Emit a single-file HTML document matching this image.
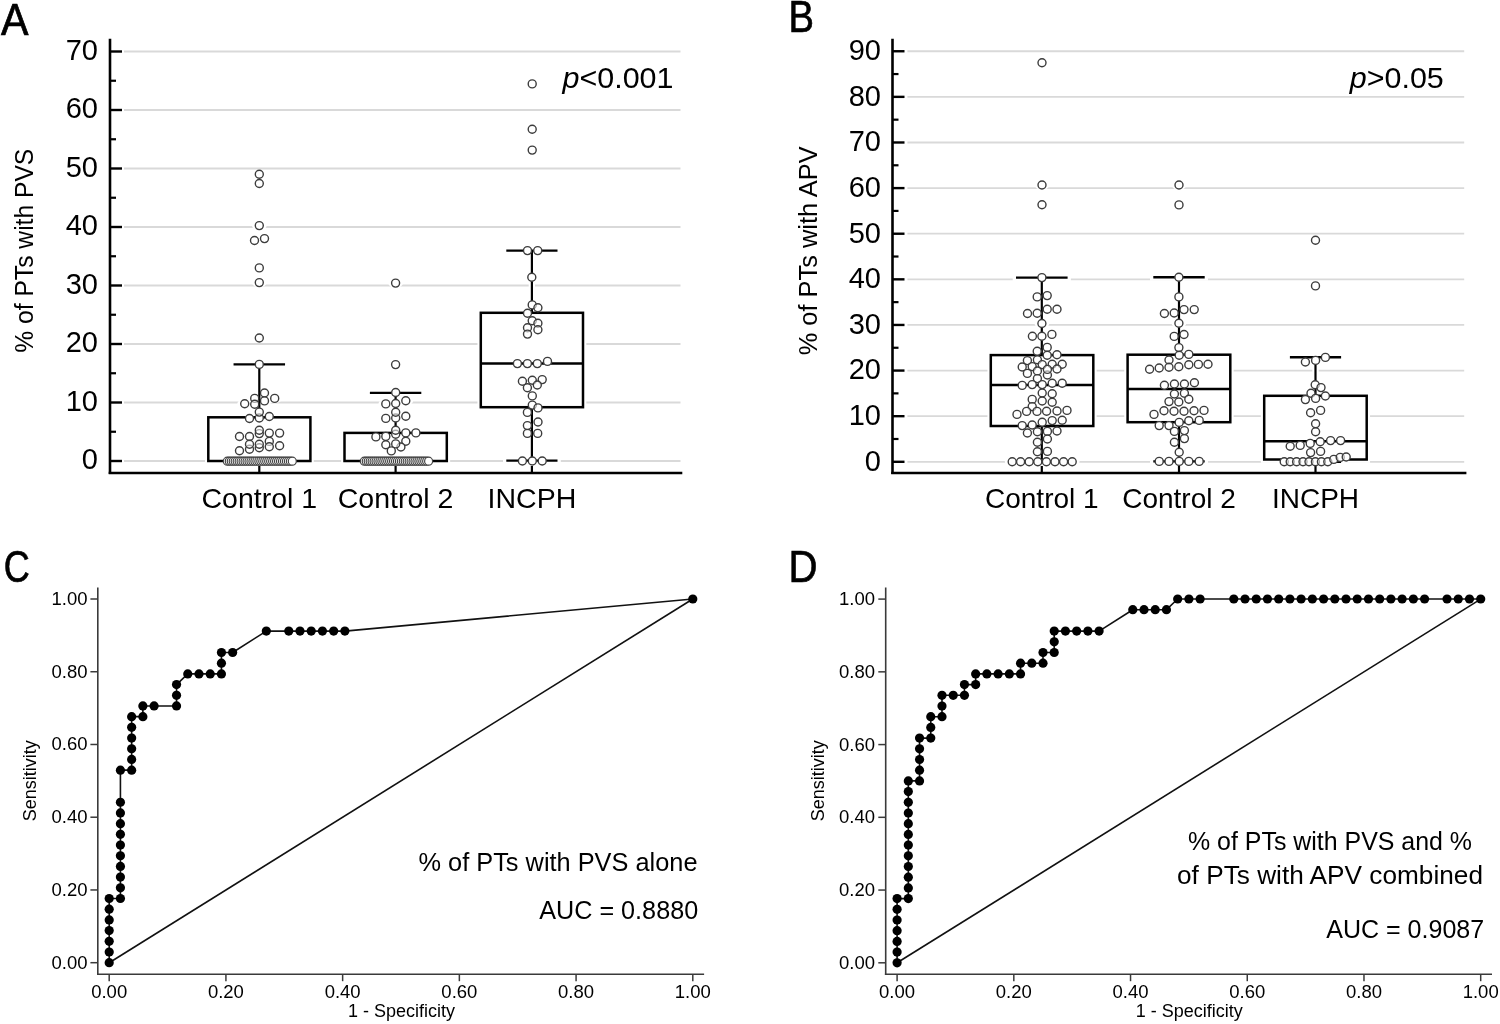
<!DOCTYPE html>
<html><head><meta charset="utf-8"><title>Figure</title>
<style>
html,body{margin:0;padding:0;background:#fff;}
svg{display:block;will-change:transform;}
text{font-family:"Liberation Sans",sans-serif;fill:#000;}
circle.of{fill:#fff;stroke:none;}
circle.o{fill:#fff;fill-opacity:0.55;stroke:#3c3c3c;stroke-width:1.4;}
circle.z{fill:#fff;stroke:#444;stroke-width:1.2;}
</style></head>
<body>
<svg width="1500" height="1024" viewBox="0 0 1500 1024">
<rect width="1500" height="1024" fill="#fff"/>
<text x="1.0" y="34.7" font-size="45" stroke="#000" stroke-width="0.7" textLength="27.5" lengthAdjust="spacingAndGlyphs">A</text>
<text x="788.5" y="32.3" font-size="45" stroke="#000" stroke-width="0.7" textLength="25.5" lengthAdjust="spacingAndGlyphs">B</text>
<text x="3.8" y="582.2" font-size="45" stroke="#000" stroke-width="0.7" textLength="26" lengthAdjust="spacingAndGlyphs">C</text>
<text x="788.5" y="582.4" font-size="45" stroke="#000" stroke-width="0.7" textLength="29" lengthAdjust="spacingAndGlyphs">D</text>
<g class="A">
<line x1="124.00" y1="461.00" x2="680.50" y2="461.00" stroke="#d9d9d9" stroke-width="1.8" stroke-linecap="butt"/>
<line x1="124.00" y1="402.50" x2="680.50" y2="402.50" stroke="#d9d9d9" stroke-width="1.8" stroke-linecap="butt"/>
<line x1="124.00" y1="344.00" x2="680.50" y2="344.00" stroke="#d9d9d9" stroke-width="1.8" stroke-linecap="butt"/>
<line x1="124.00" y1="285.50" x2="680.50" y2="285.50" stroke="#d9d9d9" stroke-width="1.8" stroke-linecap="butt"/>
<line x1="124.00" y1="227.00" x2="680.50" y2="227.00" stroke="#d9d9d9" stroke-width="1.8" stroke-linecap="butt"/>
<line x1="124.00" y1="168.50" x2="680.50" y2="168.50" stroke="#d9d9d9" stroke-width="1.8" stroke-linecap="butt"/>
<line x1="124.00" y1="110.00" x2="680.50" y2="110.00" stroke="#d9d9d9" stroke-width="1.8" stroke-linecap="butt"/>
<line x1="124.00" y1="51.50" x2="680.50" y2="51.50" stroke="#d9d9d9" stroke-width="1.8" stroke-linecap="butt"/>
<line x1="259.30" y1="364.40" x2="259.30" y2="417.30" stroke="#fff" stroke-width="6.4" stroke-linecap="butt"/>
<line x1="259.30" y1="461.00" x2="259.30" y2="461.00" stroke="#fff" stroke-width="6.4" stroke-linecap="butt"/>
<line x1="233.55" y1="364.40" x2="285.05" y2="364.40" stroke="#fff" stroke-width="6.6" stroke-linecap="square"/>
<line x1="233.55" y1="461.00" x2="285.05" y2="461.00" stroke="#fff" stroke-width="6.6" stroke-linecap="square"/>
<rect x="208.30" y="417.30" width="102.10" height="43.70" fill="#fff" stroke="#fff" stroke-width="6.7"/>
<line x1="395.60" y1="392.90" x2="395.60" y2="432.90" stroke="#fff" stroke-width="6.4" stroke-linecap="butt"/>
<line x1="395.60" y1="461.00" x2="395.60" y2="461.00" stroke="#fff" stroke-width="6.4" stroke-linecap="butt"/>
<line x1="369.90" y1="392.90" x2="421.30" y2="392.90" stroke="#fff" stroke-width="6.6" stroke-linecap="square"/>
<line x1="369.90" y1="461.00" x2="421.30" y2="461.00" stroke="#fff" stroke-width="6.6" stroke-linecap="square"/>
<rect x="344.50" y="432.90" width="102.30" height="28.10" fill="#fff" stroke="#fff" stroke-width="6.7"/>
<line x1="531.90" y1="250.60" x2="531.90" y2="312.80" stroke="#fff" stroke-width="6.4" stroke-linecap="butt"/>
<line x1="531.90" y1="407.20" x2="531.90" y2="460.60" stroke="#fff" stroke-width="6.4" stroke-linecap="butt"/>
<line x1="506.30" y1="250.60" x2="557.50" y2="250.60" stroke="#fff" stroke-width="6.6" stroke-linecap="square"/>
<line x1="506.30" y1="460.60" x2="557.50" y2="460.60" stroke="#fff" stroke-width="6.6" stroke-linecap="square"/>
<rect x="480.80" y="312.80" width="102.20" height="94.40" fill="#fff" stroke="#fff" stroke-width="6.7"/>
<line x1="480.80" y1="363.40" x2="583.00" y2="363.40" stroke="#fff" stroke-width="6.7" stroke-linecap="butt"/>
<ellipse cx="259.3" cy="174.3" rx="7.4" ry="4.8" fill="#fff"/>
<ellipse cx="259.3" cy="183.5" rx="7.4" ry="4.8" fill="#fff"/>
<ellipse cx="259.3" cy="225.6" rx="7.4" ry="4.8" fill="#fff"/>
<ellipse cx="254.5" cy="240.5" rx="7.4" ry="4.8" fill="#fff"/>
<ellipse cx="264.5" cy="238.6" rx="7.4" ry="4.8" fill="#fff"/>
<ellipse cx="259.3" cy="267.9" rx="7.4" ry="4.8" fill="#fff"/>
<ellipse cx="259.3" cy="282.6" rx="7.4" ry="4.8" fill="#fff"/>
<ellipse cx="259.3" cy="338.0" rx="7.4" ry="4.8" fill="#fff"/>
<ellipse cx="259.3" cy="364.4" rx="7.4" ry="4.8" fill="#fff"/>
<ellipse cx="264.5" cy="393.0" rx="7.4" ry="4.8" fill="#fff"/>
<ellipse cx="254.7" cy="398.4" rx="7.4" ry="4.8" fill="#fff"/>
<ellipse cx="274.7" cy="398.4" rx="7.4" ry="4.8" fill="#fff"/>
<ellipse cx="264.5" cy="400.9" rx="7.4" ry="4.8" fill="#fff"/>
<ellipse cx="244.7" cy="403.8" rx="7.4" ry="4.8" fill="#fff"/>
<ellipse cx="254.7" cy="404.3" rx="7.4" ry="4.8" fill="#fff"/>
<ellipse cx="259.3" cy="418.0" rx="7.4" ry="4.8" fill="#fff"/>
<ellipse cx="259.3" cy="412.1" rx="7.4" ry="4.8" fill="#fff"/>
<ellipse cx="269.3" cy="416.5" rx="7.4" ry="4.8" fill="#fff"/>
<ellipse cx="249.5" cy="418.5" rx="7.4" ry="4.8" fill="#fff"/>
<ellipse cx="259.3" cy="433.6" rx="7.4" ry="4.8" fill="#fff"/>
<ellipse cx="259.3" cy="430.2" rx="7.4" ry="4.8" fill="#fff"/>
<ellipse cx="269.3" cy="433.1" rx="7.4" ry="4.8" fill="#fff"/>
<ellipse cx="279.6" cy="433.1" rx="7.4" ry="4.8" fill="#fff"/>
<ellipse cx="239.5" cy="436.5" rx="7.4" ry="4.8" fill="#fff"/>
<ellipse cx="249.5" cy="436.5" rx="7.4" ry="4.8" fill="#fff"/>
<ellipse cx="269.3" cy="441.4" rx="7.4" ry="4.8" fill="#fff"/>
<ellipse cx="259.3" cy="447.8" rx="7.4" ry="4.8" fill="#fff"/>
<ellipse cx="249.5" cy="449.2" rx="7.4" ry="4.8" fill="#fff"/>
<ellipse cx="269.3" cy="446.8" rx="7.4" ry="4.8" fill="#fff"/>
<ellipse cx="249.5" cy="444.3" rx="7.4" ry="4.8" fill="#fff"/>
<ellipse cx="259.3" cy="444.3" rx="7.4" ry="4.8" fill="#fff"/>
<ellipse cx="279.6" cy="445.8" rx="7.4" ry="4.8" fill="#fff"/>
<ellipse cx="239.5" cy="450.7" rx="7.4" ry="4.8" fill="#fff"/>
<ellipse cx="395.6" cy="283.1" rx="7.4" ry="4.8" fill="#fff"/>
<ellipse cx="395.6" cy="364.6" rx="7.4" ry="4.8" fill="#fff"/>
<ellipse cx="395.7" cy="392.5" rx="7.4" ry="4.8" fill="#fff"/>
<ellipse cx="385.8" cy="403.9" rx="7.4" ry="4.8" fill="#fff"/>
<ellipse cx="395.7" cy="403.5" rx="7.4" ry="4.8" fill="#fff"/>
<ellipse cx="405.8" cy="400.8" rx="7.4" ry="4.8" fill="#fff"/>
<ellipse cx="395.7" cy="418.0" rx="7.4" ry="4.8" fill="#fff"/>
<ellipse cx="395.7" cy="412.3" rx="7.4" ry="4.8" fill="#fff"/>
<ellipse cx="385.8" cy="418.4" rx="7.4" ry="4.8" fill="#fff"/>
<ellipse cx="405.8" cy="416.2" rx="7.4" ry="4.8" fill="#fff"/>
<ellipse cx="395.7" cy="434.2" rx="7.4" ry="4.8" fill="#fff"/>
<ellipse cx="395.7" cy="430.3" rx="7.4" ry="4.8" fill="#fff"/>
<ellipse cx="405.8" cy="432.9" rx="7.4" ry="4.8" fill="#fff"/>
<ellipse cx="415.9" cy="432.9" rx="7.4" ry="4.8" fill="#fff"/>
<ellipse cx="375.9" cy="436.9" rx="7.4" ry="4.8" fill="#fff"/>
<ellipse cx="385.8" cy="436.4" rx="7.4" ry="4.8" fill="#fff"/>
<ellipse cx="405.8" cy="441.3" rx="7.4" ry="4.8" fill="#fff"/>
<ellipse cx="400.9" cy="447.0" rx="7.4" ry="4.8" fill="#fff"/>
<ellipse cx="385.8" cy="444.8" rx="7.4" ry="4.8" fill="#fff"/>
<ellipse cx="395.7" cy="443.9" rx="7.4" ry="4.8" fill="#fff"/>
<ellipse cx="391.3" cy="450.9" rx="7.4" ry="4.8" fill="#fff"/>
<ellipse cx="532.2" cy="83.9" rx="7.4" ry="4.8" fill="#fff"/>
<ellipse cx="532.2" cy="129.2" rx="7.4" ry="4.8" fill="#fff"/>
<ellipse cx="532.2" cy="150.1" rx="7.4" ry="4.8" fill="#fff"/>
<ellipse cx="527.5" cy="250.6" rx="7.4" ry="4.8" fill="#fff"/>
<ellipse cx="537.7" cy="250.6" rx="7.4" ry="4.8" fill="#fff"/>
<ellipse cx="531.8" cy="277.2" rx="7.4" ry="4.8" fill="#fff"/>
<ellipse cx="532.2" cy="304.9" rx="7.4" ry="4.8" fill="#fff"/>
<ellipse cx="537.9" cy="307.7" rx="7.4" ry="4.8" fill="#fff"/>
<ellipse cx="527.5" cy="313.2" rx="7.4" ry="4.8" fill="#fff"/>
<ellipse cx="532.2" cy="320.8" rx="7.4" ry="4.8" fill="#fff"/>
<ellipse cx="537.9" cy="323.3" rx="7.4" ry="4.8" fill="#fff"/>
<ellipse cx="527.5" cy="327.8" rx="7.4" ry="4.8" fill="#fff"/>
<ellipse cx="537.9" cy="329.7" rx="7.4" ry="4.8" fill="#fff"/>
<ellipse cx="527.5" cy="334.1" rx="7.4" ry="4.8" fill="#fff"/>
<ellipse cx="517.4" cy="363.6" rx="7.4" ry="4.8" fill="#fff"/>
<ellipse cx="527.4" cy="363.6" rx="7.4" ry="4.8" fill="#fff"/>
<ellipse cx="537.3" cy="363.6" rx="7.4" ry="4.8" fill="#fff"/>
<ellipse cx="547.5" cy="361.4" rx="7.4" ry="4.8" fill="#fff"/>
<ellipse cx="522.4" cy="381.3" rx="7.4" ry="4.8" fill="#fff"/>
<ellipse cx="532.3" cy="380.3" rx="7.4" ry="4.8" fill="#fff"/>
<ellipse cx="542.2" cy="379.6" rx="7.4" ry="4.8" fill="#fff"/>
<ellipse cx="527.4" cy="387.8" rx="7.4" ry="4.8" fill="#fff"/>
<ellipse cx="537.3" cy="385.0" rx="7.4" ry="4.8" fill="#fff"/>
<ellipse cx="532.3" cy="395.9" rx="7.4" ry="4.8" fill="#fff"/>
<ellipse cx="532.3" cy="405.1" rx="7.4" ry="4.8" fill="#fff"/>
<ellipse cx="538.0" cy="407.9" rx="7.4" ry="4.8" fill="#fff"/>
<ellipse cx="527.4" cy="412.4" rx="7.4" ry="4.8" fill="#fff"/>
<ellipse cx="538.0" cy="422.0" rx="7.4" ry="4.8" fill="#fff"/>
<ellipse cx="527.4" cy="425.6" rx="7.4" ry="4.8" fill="#fff"/>
<ellipse cx="527.4" cy="433.4" rx="7.4" ry="4.8" fill="#fff"/>
<ellipse cx="537.7" cy="433.4" rx="7.4" ry="4.8" fill="#fff"/>
<ellipse cx="522.4" cy="461.0" rx="7.4" ry="4.8" fill="#fff"/>
<ellipse cx="532.3" cy="461.0" rx="7.4" ry="4.8" fill="#fff"/>
<ellipse cx="542.2" cy="461.0" rx="7.4" ry="4.8" fill="#fff"/>
<rect x="219.9" y="456.4" width="79.8" height="9.6" rx="4.8" fill="#fff"/>
<rect x="356.9" y="456.4" width="79.1" height="9.6" rx="4.8" fill="#fff"/>
<line x1="110.00" y1="38.70" x2="110.00" y2="474.00" stroke="#000" stroke-width="2.6" stroke-linecap="butt"/>
<line x1="108.70" y1="473.00" x2="682.30" y2="473.00" stroke="#000" stroke-width="2.6" stroke-linecap="butt"/>
<line x1="110.00" y1="461.00" x2="122.00" y2="461.00" stroke="#000" stroke-width="2.4" stroke-linecap="butt"/>
<text x="98.00" y="469.30" font-size="29" text-anchor="end" >0</text>
<line x1="110.00" y1="402.50" x2="122.00" y2="402.50" stroke="#000" stroke-width="2.4" stroke-linecap="butt"/>
<text x="98.00" y="410.80" font-size="29" text-anchor="end" >10</text>
<line x1="110.00" y1="344.00" x2="122.00" y2="344.00" stroke="#000" stroke-width="2.4" stroke-linecap="butt"/>
<text x="98.00" y="352.30" font-size="29" text-anchor="end" >20</text>
<line x1="110.00" y1="285.50" x2="122.00" y2="285.50" stroke="#000" stroke-width="2.4" stroke-linecap="butt"/>
<text x="98.00" y="293.80" font-size="29" text-anchor="end" >30</text>
<line x1="110.00" y1="227.00" x2="122.00" y2="227.00" stroke="#000" stroke-width="2.4" stroke-linecap="butt"/>
<text x="98.00" y="235.30" font-size="29" text-anchor="end" >40</text>
<line x1="110.00" y1="168.50" x2="122.00" y2="168.50" stroke="#000" stroke-width="2.4" stroke-linecap="butt"/>
<text x="98.00" y="176.80" font-size="29" text-anchor="end" >50</text>
<line x1="110.00" y1="110.00" x2="122.00" y2="110.00" stroke="#000" stroke-width="2.4" stroke-linecap="butt"/>
<text x="98.00" y="118.30" font-size="29" text-anchor="end" >60</text>
<line x1="110.00" y1="51.50" x2="122.00" y2="51.50" stroke="#000" stroke-width="2.4" stroke-linecap="butt"/>
<text x="98.00" y="59.80" font-size="29" text-anchor="end" >70</text>
<line x1="110.00" y1="431.75" x2="116.00" y2="431.75" stroke="#000" stroke-width="2.2" stroke-linecap="butt"/>
<line x1="110.00" y1="373.25" x2="116.00" y2="373.25" stroke="#000" stroke-width="2.2" stroke-linecap="butt"/>
<line x1="110.00" y1="314.75" x2="116.00" y2="314.75" stroke="#000" stroke-width="2.2" stroke-linecap="butt"/>
<line x1="110.00" y1="256.25" x2="116.00" y2="256.25" stroke="#000" stroke-width="2.2" stroke-linecap="butt"/>
<line x1="110.00" y1="197.75" x2="116.00" y2="197.75" stroke="#000" stroke-width="2.2" stroke-linecap="butt"/>
<line x1="110.00" y1="139.25" x2="116.00" y2="139.25" stroke="#000" stroke-width="2.2" stroke-linecap="butt"/>
<line x1="110.00" y1="80.75" x2="116.00" y2="80.75" stroke="#000" stroke-width="2.2" stroke-linecap="butt"/>
<line x1="259.30" y1="466.00" x2="259.30" y2="473.00" stroke="#000" stroke-width="2.2" stroke-linecap="butt"/>
<line x1="395.60" y1="466.00" x2="395.60" y2="473.00" stroke="#000" stroke-width="2.2" stroke-linecap="butt"/>
<line x1="531.90" y1="466.00" x2="531.90" y2="473.00" stroke="#000" stroke-width="2.2" stroke-linecap="butt"/>
<text x="259.30" y="508.30" font-size="28.5" text-anchor="middle" >Control 1</text>
<text x="395.60" y="508.30" font-size="28.5" text-anchor="middle" >Control 2</text>
<text x="531.90" y="508.30" font-size="28.5" text-anchor="middle" >INCPH</text>
<text transform="translate(33.1,250.7) rotate(-90)" x="0" y="0" font-size="25" text-anchor="middle" textLength="204" lengthAdjust="spacingAndGlyphs">% of PTs with PVS</text>
<line x1="259.30" y1="364.40" x2="259.30" y2="417.30" stroke="#000" stroke-width="2.2" stroke-linecap="butt"/>
<line x1="259.30" y1="461.00" x2="259.30" y2="461.00" stroke="#000" stroke-width="2.2" stroke-linecap="butt"/>
<line x1="233.55" y1="364.40" x2="285.05" y2="364.40" stroke="#000" stroke-width="2.4" stroke-linecap="butt"/>
<line x1="233.55" y1="461.00" x2="285.05" y2="461.00" stroke="#000" stroke-width="2.4" stroke-linecap="butt"/>
<rect x="208.30" y="417.30" width="102.10" height="43.70" fill="none" stroke="#000" stroke-width="2.5"/>
<line x1="395.60" y1="392.90" x2="395.60" y2="432.90" stroke="#000" stroke-width="2.2" stroke-linecap="butt"/>
<line x1="395.60" y1="461.00" x2="395.60" y2="461.00" stroke="#000" stroke-width="2.2" stroke-linecap="butt"/>
<line x1="369.90" y1="392.90" x2="421.30" y2="392.90" stroke="#000" stroke-width="2.4" stroke-linecap="butt"/>
<line x1="369.90" y1="461.00" x2="421.30" y2="461.00" stroke="#000" stroke-width="2.4" stroke-linecap="butt"/>
<rect x="344.50" y="432.90" width="102.30" height="28.10" fill="none" stroke="#000" stroke-width="2.5"/>
<line x1="531.90" y1="250.60" x2="531.90" y2="312.80" stroke="#000" stroke-width="2.2" stroke-linecap="butt"/>
<line x1="531.90" y1="407.20" x2="531.90" y2="460.60" stroke="#000" stroke-width="2.2" stroke-linecap="butt"/>
<line x1="506.30" y1="250.60" x2="557.50" y2="250.60" stroke="#000" stroke-width="2.4" stroke-linecap="butt"/>
<line x1="506.30" y1="460.60" x2="557.50" y2="460.60" stroke="#000" stroke-width="2.4" stroke-linecap="butt"/>
<rect x="480.80" y="312.80" width="102.20" height="94.40" fill="none" stroke="#000" stroke-width="2.5"/>
<line x1="480.80" y1="363.40" x2="583.00" y2="363.40" stroke="#000" stroke-width="2.5" stroke-linecap="butt"/>
<circle cx="227.30" cy="461.2" r="4.0" class="z"/>
<circle cx="229.27" cy="461.2" r="4.0" class="z"/>
<circle cx="231.24" cy="461.2" r="4.0" class="z"/>
<circle cx="233.21" cy="461.2" r="4.0" class="z"/>
<circle cx="235.18" cy="461.2" r="4.0" class="z"/>
<circle cx="237.15" cy="461.2" r="4.0" class="z"/>
<circle cx="239.12" cy="461.2" r="4.0" class="z"/>
<circle cx="241.09" cy="461.2" r="4.0" class="z"/>
<circle cx="243.06" cy="461.2" r="4.0" class="z"/>
<circle cx="245.03" cy="461.2" r="4.0" class="z"/>
<circle cx="247.00" cy="461.2" r="4.0" class="z"/>
<circle cx="248.97" cy="461.2" r="4.0" class="z"/>
<circle cx="250.94" cy="461.2" r="4.0" class="z"/>
<circle cx="252.91" cy="461.2" r="4.0" class="z"/>
<circle cx="254.88" cy="461.2" r="4.0" class="z"/>
<circle cx="256.85" cy="461.2" r="4.0" class="z"/>
<circle cx="258.82" cy="461.2" r="4.0" class="z"/>
<circle cx="260.78" cy="461.2" r="4.0" class="z"/>
<circle cx="262.75" cy="461.2" r="4.0" class="z"/>
<circle cx="264.72" cy="461.2" r="4.0" class="z"/>
<circle cx="266.69" cy="461.2" r="4.0" class="z"/>
<circle cx="268.66" cy="461.2" r="4.0" class="z"/>
<circle cx="270.63" cy="461.2" r="4.0" class="z"/>
<circle cx="272.60" cy="461.2" r="4.0" class="z"/>
<circle cx="274.57" cy="461.2" r="4.0" class="z"/>
<circle cx="276.54" cy="461.2" r="4.0" class="z"/>
<circle cx="278.51" cy="461.2" r="4.0" class="z"/>
<circle cx="280.48" cy="461.2" r="4.0" class="z"/>
<circle cx="282.45" cy="461.2" r="4.0" class="z"/>
<circle cx="284.42" cy="461.2" r="4.0" class="z"/>
<circle cx="286.39" cy="461.2" r="4.0" class="z"/>
<circle cx="288.36" cy="461.2" r="4.0" class="z"/>
<circle cx="290.33" cy="461.2" r="4.0" class="z"/>
<circle cx="292.30" cy="461.2" r="4.0" class="z"/>
<circle cx="364.30" cy="461.2" r="4.0" class="z"/>
<circle cx="366.25" cy="461.2" r="4.0" class="z"/>
<circle cx="368.20" cy="461.2" r="4.0" class="z"/>
<circle cx="370.15" cy="461.2" r="4.0" class="z"/>
<circle cx="372.09" cy="461.2" r="4.0" class="z"/>
<circle cx="374.04" cy="461.2" r="4.0" class="z"/>
<circle cx="375.99" cy="461.2" r="4.0" class="z"/>
<circle cx="377.94" cy="461.2" r="4.0" class="z"/>
<circle cx="379.89" cy="461.2" r="4.0" class="z"/>
<circle cx="381.84" cy="461.2" r="4.0" class="z"/>
<circle cx="383.78" cy="461.2" r="4.0" class="z"/>
<circle cx="385.73" cy="461.2" r="4.0" class="z"/>
<circle cx="387.68" cy="461.2" r="4.0" class="z"/>
<circle cx="389.63" cy="461.2" r="4.0" class="z"/>
<circle cx="391.58" cy="461.2" r="4.0" class="z"/>
<circle cx="393.53" cy="461.2" r="4.0" class="z"/>
<circle cx="395.48" cy="461.2" r="4.0" class="z"/>
<circle cx="397.42" cy="461.2" r="4.0" class="z"/>
<circle cx="399.37" cy="461.2" r="4.0" class="z"/>
<circle cx="401.32" cy="461.2" r="4.0" class="z"/>
<circle cx="403.27" cy="461.2" r="4.0" class="z"/>
<circle cx="405.22" cy="461.2" r="4.0" class="z"/>
<circle cx="407.17" cy="461.2" r="4.0" class="z"/>
<circle cx="409.12" cy="461.2" r="4.0" class="z"/>
<circle cx="411.06" cy="461.2" r="4.0" class="z"/>
<circle cx="413.01" cy="461.2" r="4.0" class="z"/>
<circle cx="414.96" cy="461.2" r="4.0" class="z"/>
<circle cx="416.91" cy="461.2" r="4.0" class="z"/>
<circle cx="418.86" cy="461.2" r="4.0" class="z"/>
<circle cx="420.81" cy="461.2" r="4.0" class="z"/>
<circle cx="422.75" cy="461.2" r="4.0" class="z"/>
<circle cx="424.70" cy="461.2" r="4.0" class="z"/>
<circle cx="426.65" cy="461.2" r="4.0" class="z"/>
<circle cx="428.60" cy="461.2" r="4.0" class="z"/>
<circle cx="259.3" cy="174.3" r="4.0" class="of"/>
<circle cx="259.3" cy="183.5" r="4.0" class="of"/>
<circle cx="259.3" cy="225.6" r="4.0" class="of"/>
<circle cx="254.5" cy="240.5" r="4.0" class="of"/>
<circle cx="264.5" cy="238.6" r="4.0" class="of"/>
<circle cx="259.3" cy="267.9" r="4.0" class="of"/>
<circle cx="259.3" cy="282.6" r="4.0" class="of"/>
<circle cx="259.3" cy="338.0" r="4.0" class="of"/>
<circle cx="259.3" cy="364.4" r="4.0" class="of"/>
<circle cx="264.5" cy="393.0" r="4.0" class="of"/>
<circle cx="254.7" cy="398.4" r="4.0" class="of"/>
<circle cx="274.7" cy="398.4" r="4.0" class="of"/>
<circle cx="264.5" cy="400.9" r="4.0" class="of"/>
<circle cx="244.7" cy="403.8" r="4.0" class="of"/>
<circle cx="254.7" cy="404.3" r="4.0" class="of"/>
<circle cx="259.3" cy="418.0" r="4.0" class="of"/>
<circle cx="259.3" cy="412.1" r="4.0" class="of"/>
<circle cx="269.3" cy="416.5" r="4.0" class="of"/>
<circle cx="249.5" cy="418.5" r="4.0" class="of"/>
<circle cx="259.3" cy="433.6" r="4.0" class="of"/>
<circle cx="259.3" cy="430.2" r="4.0" class="of"/>
<circle cx="269.3" cy="433.1" r="4.0" class="of"/>
<circle cx="279.6" cy="433.1" r="4.0" class="of"/>
<circle cx="239.5" cy="436.5" r="4.0" class="of"/>
<circle cx="249.5" cy="436.5" r="4.0" class="of"/>
<circle cx="269.3" cy="441.4" r="4.0" class="of"/>
<circle cx="259.3" cy="447.8" r="4.0" class="of"/>
<circle cx="249.5" cy="449.2" r="4.0" class="of"/>
<circle cx="269.3" cy="446.8" r="4.0" class="of"/>
<circle cx="249.5" cy="444.3" r="4.0" class="of"/>
<circle cx="259.3" cy="444.3" r="4.0" class="of"/>
<circle cx="279.6" cy="445.8" r="4.0" class="of"/>
<circle cx="239.5" cy="450.7" r="4.0" class="of"/>
<circle cx="395.6" cy="283.1" r="4.0" class="of"/>
<circle cx="395.6" cy="364.6" r="4.0" class="of"/>
<circle cx="395.7" cy="392.5" r="4.0" class="of"/>
<circle cx="385.8" cy="403.9" r="4.0" class="of"/>
<circle cx="395.7" cy="403.5" r="4.0" class="of"/>
<circle cx="405.8" cy="400.8" r="4.0" class="of"/>
<circle cx="395.7" cy="418.0" r="4.0" class="of"/>
<circle cx="395.7" cy="412.3" r="4.0" class="of"/>
<circle cx="385.8" cy="418.4" r="4.0" class="of"/>
<circle cx="405.8" cy="416.2" r="4.0" class="of"/>
<circle cx="395.7" cy="434.2" r="4.0" class="of"/>
<circle cx="395.7" cy="430.3" r="4.0" class="of"/>
<circle cx="405.8" cy="432.9" r="4.0" class="of"/>
<circle cx="415.9" cy="432.9" r="4.0" class="of"/>
<circle cx="375.9" cy="436.9" r="4.0" class="of"/>
<circle cx="385.8" cy="436.4" r="4.0" class="of"/>
<circle cx="405.8" cy="441.3" r="4.0" class="of"/>
<circle cx="400.9" cy="447.0" r="4.0" class="of"/>
<circle cx="385.8" cy="444.8" r="4.0" class="of"/>
<circle cx="395.7" cy="443.9" r="4.0" class="of"/>
<circle cx="391.3" cy="450.9" r="4.0" class="of"/>
<circle cx="532.2" cy="83.9" r="4.0" class="of"/>
<circle cx="532.2" cy="129.2" r="4.0" class="of"/>
<circle cx="532.2" cy="150.1" r="4.0" class="of"/>
<circle cx="527.5" cy="250.6" r="4.0" class="of"/>
<circle cx="537.7" cy="250.6" r="4.0" class="of"/>
<circle cx="531.8" cy="277.2" r="4.0" class="of"/>
<circle cx="532.2" cy="304.9" r="4.0" class="of"/>
<circle cx="537.9" cy="307.7" r="4.0" class="of"/>
<circle cx="527.5" cy="313.2" r="4.0" class="of"/>
<circle cx="532.2" cy="320.8" r="4.0" class="of"/>
<circle cx="537.9" cy="323.3" r="4.0" class="of"/>
<circle cx="527.5" cy="327.8" r="4.0" class="of"/>
<circle cx="537.9" cy="329.7" r="4.0" class="of"/>
<circle cx="527.5" cy="334.1" r="4.0" class="of"/>
<circle cx="517.4" cy="363.6" r="4.0" class="of"/>
<circle cx="527.4" cy="363.6" r="4.0" class="of"/>
<circle cx="537.3" cy="363.6" r="4.0" class="of"/>
<circle cx="547.5" cy="361.4" r="4.0" class="of"/>
<circle cx="522.4" cy="381.3" r="4.0" class="of"/>
<circle cx="532.3" cy="380.3" r="4.0" class="of"/>
<circle cx="542.2" cy="379.6" r="4.0" class="of"/>
<circle cx="527.4" cy="387.8" r="4.0" class="of"/>
<circle cx="537.3" cy="385.0" r="4.0" class="of"/>
<circle cx="532.3" cy="395.9" r="4.0" class="of"/>
<circle cx="532.3" cy="405.1" r="4.0" class="of"/>
<circle cx="538.0" cy="407.9" r="4.0" class="of"/>
<circle cx="527.4" cy="412.4" r="4.0" class="of"/>
<circle cx="538.0" cy="422.0" r="4.0" class="of"/>
<circle cx="527.4" cy="425.6" r="4.0" class="of"/>
<circle cx="527.4" cy="433.4" r="4.0" class="of"/>
<circle cx="537.7" cy="433.4" r="4.0" class="of"/>
<circle cx="522.4" cy="461.0" r="4.0" class="of"/>
<circle cx="532.3" cy="461.0" r="4.0" class="of"/>
<circle cx="542.2" cy="461.0" r="4.0" class="of"/>
<circle cx="259.3" cy="174.3" r="4.0" class="o"/>
<circle cx="259.3" cy="183.5" r="4.0" class="o"/>
<circle cx="259.3" cy="225.6" r="4.0" class="o"/>
<circle cx="254.5" cy="240.5" r="4.0" class="o"/>
<circle cx="264.5" cy="238.6" r="4.0" class="o"/>
<circle cx="259.3" cy="267.9" r="4.0" class="o"/>
<circle cx="259.3" cy="282.6" r="4.0" class="o"/>
<circle cx="259.3" cy="338.0" r="4.0" class="o"/>
<circle cx="259.3" cy="364.4" r="4.0" class="o"/>
<circle cx="264.5" cy="393.0" r="4.0" class="o"/>
<circle cx="254.7" cy="398.4" r="4.0" class="o"/>
<circle cx="274.7" cy="398.4" r="4.0" class="o"/>
<circle cx="264.5" cy="400.9" r="4.0" class="o"/>
<circle cx="244.7" cy="403.8" r="4.0" class="o"/>
<circle cx="254.7" cy="404.3" r="4.0" class="o"/>
<circle cx="259.3" cy="418.0" r="4.0" class="o"/>
<circle cx="259.3" cy="412.1" r="4.0" class="o"/>
<circle cx="269.3" cy="416.5" r="4.0" class="o"/>
<circle cx="249.5" cy="418.5" r="4.0" class="o"/>
<circle cx="259.3" cy="433.6" r="4.0" class="o"/>
<circle cx="259.3" cy="430.2" r="4.0" class="o"/>
<circle cx="269.3" cy="433.1" r="4.0" class="o"/>
<circle cx="279.6" cy="433.1" r="4.0" class="o"/>
<circle cx="239.5" cy="436.5" r="4.0" class="o"/>
<circle cx="249.5" cy="436.5" r="4.0" class="o"/>
<circle cx="269.3" cy="441.4" r="4.0" class="o"/>
<circle cx="259.3" cy="447.8" r="4.0" class="o"/>
<circle cx="249.5" cy="449.2" r="4.0" class="o"/>
<circle cx="269.3" cy="446.8" r="4.0" class="o"/>
<circle cx="249.5" cy="444.3" r="4.0" class="o"/>
<circle cx="259.3" cy="444.3" r="4.0" class="o"/>
<circle cx="279.6" cy="445.8" r="4.0" class="o"/>
<circle cx="239.5" cy="450.7" r="4.0" class="o"/>
<circle cx="395.6" cy="283.1" r="4.0" class="o"/>
<circle cx="395.6" cy="364.6" r="4.0" class="o"/>
<circle cx="395.7" cy="392.5" r="4.0" class="o"/>
<circle cx="385.8" cy="403.9" r="4.0" class="o"/>
<circle cx="395.7" cy="403.5" r="4.0" class="o"/>
<circle cx="405.8" cy="400.8" r="4.0" class="o"/>
<circle cx="395.7" cy="418.0" r="4.0" class="o"/>
<circle cx="395.7" cy="412.3" r="4.0" class="o"/>
<circle cx="385.8" cy="418.4" r="4.0" class="o"/>
<circle cx="405.8" cy="416.2" r="4.0" class="o"/>
<circle cx="395.7" cy="434.2" r="4.0" class="o"/>
<circle cx="395.7" cy="430.3" r="4.0" class="o"/>
<circle cx="405.8" cy="432.9" r="4.0" class="o"/>
<circle cx="415.9" cy="432.9" r="4.0" class="o"/>
<circle cx="375.9" cy="436.9" r="4.0" class="o"/>
<circle cx="385.8" cy="436.4" r="4.0" class="o"/>
<circle cx="405.8" cy="441.3" r="4.0" class="o"/>
<circle cx="400.9" cy="447.0" r="4.0" class="o"/>
<circle cx="385.8" cy="444.8" r="4.0" class="o"/>
<circle cx="395.7" cy="443.9" r="4.0" class="o"/>
<circle cx="391.3" cy="450.9" r="4.0" class="o"/>
<circle cx="532.2" cy="83.9" r="4.0" class="o"/>
<circle cx="532.2" cy="129.2" r="4.0" class="o"/>
<circle cx="532.2" cy="150.1" r="4.0" class="o"/>
<circle cx="527.5" cy="250.6" r="4.0" class="o"/>
<circle cx="537.7" cy="250.6" r="4.0" class="o"/>
<circle cx="531.8" cy="277.2" r="4.0" class="o"/>
<circle cx="532.2" cy="304.9" r="4.0" class="o"/>
<circle cx="537.9" cy="307.7" r="4.0" class="o"/>
<circle cx="527.5" cy="313.2" r="4.0" class="o"/>
<circle cx="532.2" cy="320.8" r="4.0" class="o"/>
<circle cx="537.9" cy="323.3" r="4.0" class="o"/>
<circle cx="527.5" cy="327.8" r="4.0" class="o"/>
<circle cx="537.9" cy="329.7" r="4.0" class="o"/>
<circle cx="527.5" cy="334.1" r="4.0" class="o"/>
<circle cx="517.4" cy="363.6" r="4.0" class="o"/>
<circle cx="527.4" cy="363.6" r="4.0" class="o"/>
<circle cx="537.3" cy="363.6" r="4.0" class="o"/>
<circle cx="547.5" cy="361.4" r="4.0" class="o"/>
<circle cx="522.4" cy="381.3" r="4.0" class="o"/>
<circle cx="532.3" cy="380.3" r="4.0" class="o"/>
<circle cx="542.2" cy="379.6" r="4.0" class="o"/>
<circle cx="527.4" cy="387.8" r="4.0" class="o"/>
<circle cx="537.3" cy="385.0" r="4.0" class="o"/>
<circle cx="532.3" cy="395.9" r="4.0" class="o"/>
<circle cx="532.3" cy="405.1" r="4.0" class="o"/>
<circle cx="538.0" cy="407.9" r="4.0" class="o"/>
<circle cx="527.4" cy="412.4" r="4.0" class="o"/>
<circle cx="538.0" cy="422.0" r="4.0" class="o"/>
<circle cx="527.4" cy="425.6" r="4.0" class="o"/>
<circle cx="527.4" cy="433.4" r="4.0" class="o"/>
<circle cx="537.7" cy="433.4" r="4.0" class="o"/>
<circle cx="522.4" cy="461.0" r="4.0" class="o"/>
<circle cx="532.3" cy="461.0" r="4.0" class="o"/>
<circle cx="542.2" cy="461.0" r="4.0" class="o"/>
</g>
<g class="B">
<line x1="907.40" y1="461.80" x2="1464.20" y2="461.80" stroke="#d9d9d9" stroke-width="1.8" stroke-linecap="butt"/>
<line x1="907.40" y1="416.18" x2="1464.20" y2="416.18" stroke="#d9d9d9" stroke-width="1.8" stroke-linecap="butt"/>
<line x1="907.40" y1="370.57" x2="1464.20" y2="370.57" stroke="#d9d9d9" stroke-width="1.8" stroke-linecap="butt"/>
<line x1="907.40" y1="324.95" x2="1464.20" y2="324.95" stroke="#d9d9d9" stroke-width="1.8" stroke-linecap="butt"/>
<line x1="907.40" y1="279.33" x2="1464.20" y2="279.33" stroke="#d9d9d9" stroke-width="1.8" stroke-linecap="butt"/>
<line x1="907.40" y1="233.72" x2="1464.20" y2="233.72" stroke="#d9d9d9" stroke-width="1.8" stroke-linecap="butt"/>
<line x1="907.40" y1="188.10" x2="1464.20" y2="188.10" stroke="#d9d9d9" stroke-width="1.8" stroke-linecap="butt"/>
<line x1="907.40" y1="142.48" x2="1464.20" y2="142.48" stroke="#d9d9d9" stroke-width="1.8" stroke-linecap="butt"/>
<line x1="907.40" y1="96.86" x2="1464.20" y2="96.86" stroke="#d9d9d9" stroke-width="1.8" stroke-linecap="butt"/>
<line x1="907.40" y1="51.25" x2="1464.20" y2="51.25" stroke="#d9d9d9" stroke-width="1.8" stroke-linecap="butt"/>
<line x1="1041.80" y1="277.60" x2="1041.80" y2="355.10" stroke="#fff" stroke-width="6.4" stroke-linecap="butt"/>
<line x1="1041.80" y1="426.00" x2="1041.80" y2="461.80" stroke="#fff" stroke-width="6.4" stroke-linecap="butt"/>
<line x1="1016.00" y1="277.60" x2="1067.60" y2="277.60" stroke="#fff" stroke-width="6.6" stroke-linecap="square"/>
<line x1="1016.00" y1="461.80" x2="1067.60" y2="461.80" stroke="#fff" stroke-width="6.6" stroke-linecap="square"/>
<rect x="990.80" y="355.10" width="102.50" height="70.90" fill="#fff" stroke="#fff" stroke-width="6.7"/>
<line x1="990.80" y1="385.00" x2="1093.30" y2="385.00" stroke="#fff" stroke-width="6.7" stroke-linecap="butt"/>
<line x1="1179.00" y1="277.30" x2="1179.00" y2="354.70" stroke="#fff" stroke-width="6.4" stroke-linecap="butt"/>
<line x1="1179.00" y1="422.20" x2="1179.00" y2="461.40" stroke="#fff" stroke-width="6.4" stroke-linecap="butt"/>
<line x1="1153.30" y1="277.30" x2="1204.70" y2="277.30" stroke="#fff" stroke-width="6.6" stroke-linecap="square"/>
<line x1="1153.30" y1="461.40" x2="1204.70" y2="461.40" stroke="#fff" stroke-width="6.6" stroke-linecap="square"/>
<rect x="1127.60" y="354.70" width="102.70" height="67.50" fill="#fff" stroke="#fff" stroke-width="6.7"/>
<line x1="1127.60" y1="389.00" x2="1230.30" y2="389.00" stroke="#fff" stroke-width="6.7" stroke-linecap="butt"/>
<line x1="1315.50" y1="357.30" x2="1315.50" y2="395.80" stroke="#fff" stroke-width="6.4" stroke-linecap="butt"/>
<line x1="1315.50" y1="459.50" x2="1315.50" y2="461.80" stroke="#fff" stroke-width="6.4" stroke-linecap="butt"/>
<line x1="1289.90" y1="357.30" x2="1341.10" y2="357.30" stroke="#fff" stroke-width="6.6" stroke-linecap="square"/>
<line x1="1289.90" y1="461.80" x2="1341.10" y2="461.80" stroke="#fff" stroke-width="6.6" stroke-linecap="square"/>
<rect x="1264.20" y="395.80" width="102.50" height="63.70" fill="#fff" stroke="#fff" stroke-width="6.7"/>
<line x1="1264.20" y1="441.20" x2="1366.70" y2="441.20" stroke="#fff" stroke-width="6.7" stroke-linecap="butt"/>
<ellipse cx="1042.0" cy="62.8" rx="7.4" ry="4.8" fill="#fff"/>
<ellipse cx="1042.0" cy="185.0" rx="7.4" ry="4.8" fill="#fff"/>
<ellipse cx="1042.0" cy="204.7" rx="7.4" ry="4.8" fill="#fff"/>
<ellipse cx="1041.9" cy="277.6" rx="7.4" ry="4.8" fill="#fff"/>
<ellipse cx="1037.2" cy="296.9" rx="7.4" ry="4.8" fill="#fff"/>
<ellipse cx="1047.2" cy="295.6" rx="7.4" ry="4.8" fill="#fff"/>
<ellipse cx="1027.5" cy="313.5" rx="7.4" ry="4.8" fill="#fff"/>
<ellipse cx="1037.2" cy="313.2" rx="7.4" ry="4.8" fill="#fff"/>
<ellipse cx="1047.2" cy="309.3" rx="7.4" ry="4.8" fill="#fff"/>
<ellipse cx="1057.0" cy="309.3" rx="7.4" ry="4.8" fill="#fff"/>
<ellipse cx="1041.9" cy="323.5" rx="7.4" ry="4.8" fill="#fff"/>
<ellipse cx="1032.4" cy="336.2" rx="7.4" ry="4.8" fill="#fff"/>
<ellipse cx="1041.9" cy="336.2" rx="7.4" ry="4.8" fill="#fff"/>
<ellipse cx="1051.9" cy="334.4" rx="7.4" ry="4.8" fill="#fff"/>
<ellipse cx="1037.2" cy="351.3" rx="7.4" ry="4.8" fill="#fff"/>
<ellipse cx="1047.2" cy="347.4" rx="7.4" ry="4.8" fill="#fff"/>
<ellipse cx="1047.2" cy="355.2" rx="7.4" ry="4.8" fill="#fff"/>
<ellipse cx="1057.0" cy="354.7" rx="7.4" ry="4.8" fill="#fff"/>
<ellipse cx="1027.4" cy="360.6" rx="7.4" ry="4.8" fill="#fff"/>
<ellipse cx="1037.4" cy="359.8" rx="7.4" ry="4.8" fill="#fff"/>
<ellipse cx="1022.2" cy="367.0" rx="7.4" ry="4.8" fill="#fff"/>
<ellipse cx="1032.2" cy="366.6" rx="7.4" ry="4.8" fill="#fff"/>
<ellipse cx="1042.2" cy="364.6" rx="7.4" ry="4.8" fill="#fff"/>
<ellipse cx="1052.2" cy="364.2" rx="7.4" ry="4.8" fill="#fff"/>
<ellipse cx="1062.2" cy="364.2" rx="7.4" ry="4.8" fill="#fff"/>
<ellipse cx="1047.4" cy="375.0" rx="7.4" ry="4.8" fill="#fff"/>
<ellipse cx="1037.4" cy="371.0" rx="7.4" ry="4.8" fill="#fff"/>
<ellipse cx="1047.4" cy="369.4" rx="7.4" ry="4.8" fill="#fff"/>
<ellipse cx="1057.0" cy="369.0" rx="7.4" ry="4.8" fill="#fff"/>
<ellipse cx="1027.4" cy="373.4" rx="7.4" ry="4.8" fill="#fff"/>
<ellipse cx="1037.4" cy="378.6" rx="7.4" ry="4.8" fill="#fff"/>
<ellipse cx="1022.2" cy="385.4" rx="7.4" ry="4.8" fill="#fff"/>
<ellipse cx="1032.2" cy="384.6" rx="7.4" ry="4.8" fill="#fff"/>
<ellipse cx="1042.2" cy="384.6" rx="7.4" ry="4.8" fill="#fff"/>
<ellipse cx="1052.2" cy="383.2" rx="7.4" ry="4.8" fill="#fff"/>
<ellipse cx="1062.2" cy="383.2" rx="7.4" ry="4.8" fill="#fff"/>
<ellipse cx="1042.2" cy="393.0" rx="7.4" ry="4.8" fill="#fff"/>
<ellipse cx="1052.2" cy="393.8" rx="7.4" ry="4.8" fill="#fff"/>
<ellipse cx="1042.2" cy="401.0" rx="7.4" ry="4.8" fill="#fff"/>
<ellipse cx="1032.2" cy="399.4" rx="7.4" ry="4.8" fill="#fff"/>
<ellipse cx="1052.2" cy="402.2" rx="7.4" ry="4.8" fill="#fff"/>
<ellipse cx="1032.2" cy="406.6" rx="7.4" ry="4.8" fill="#fff"/>
<ellipse cx="1026.6" cy="411.4" rx="7.4" ry="4.8" fill="#fff"/>
<ellipse cx="1037.0" cy="411.4" rx="7.4" ry="4.8" fill="#fff"/>
<ellipse cx="1046.6" cy="411.2" rx="7.4" ry="4.8" fill="#fff"/>
<ellipse cx="1057.0" cy="411.0" rx="7.4" ry="4.8" fill="#fff"/>
<ellipse cx="1067.0" cy="410.4" rx="7.4" ry="4.8" fill="#fff"/>
<ellipse cx="1017.0" cy="414.4" rx="7.4" ry="4.8" fill="#fff"/>
<ellipse cx="1022.2" cy="425.6" rx="7.4" ry="4.8" fill="#fff"/>
<ellipse cx="1032.2" cy="425.0" rx="7.4" ry="4.8" fill="#fff"/>
<ellipse cx="1042.2" cy="422.2" rx="7.4" ry="4.8" fill="#fff"/>
<ellipse cx="1052.2" cy="420.6" rx="7.4" ry="4.8" fill="#fff"/>
<ellipse cx="1062.2" cy="420.2" rx="7.4" ry="4.8" fill="#fff"/>
<ellipse cx="1027.4" cy="433.0" rx="7.4" ry="4.8" fill="#fff"/>
<ellipse cx="1037.4" cy="431.8" rx="7.4" ry="4.8" fill="#fff"/>
<ellipse cx="1047.4" cy="431.4" rx="7.4" ry="4.8" fill="#fff"/>
<ellipse cx="1057.0" cy="431.0" rx="7.4" ry="4.8" fill="#fff"/>
<ellipse cx="1047.4" cy="439.0" rx="7.4" ry="4.8" fill="#fff"/>
<ellipse cx="1037.4" cy="442.2" rx="7.4" ry="4.8" fill="#fff"/>
<ellipse cx="1037.4" cy="451.8" rx="7.4" ry="4.8" fill="#fff"/>
<ellipse cx="1047.4" cy="451.4" rx="7.4" ry="4.8" fill="#fff"/>
<ellipse cx="1012.2" cy="461.8" rx="7.4" ry="4.8" fill="#fff"/>
<ellipse cx="1020.6" cy="461.8" rx="7.4" ry="4.8" fill="#fff"/>
<ellipse cx="1029.2" cy="461.8" rx="7.4" ry="4.8" fill="#fff"/>
<ellipse cx="1037.8" cy="461.8" rx="7.4" ry="4.8" fill="#fff"/>
<ellipse cx="1046.4" cy="461.8" rx="7.4" ry="4.8" fill="#fff"/>
<ellipse cx="1055.0" cy="461.8" rx="7.4" ry="4.8" fill="#fff"/>
<ellipse cx="1063.6" cy="461.8" rx="7.4" ry="4.8" fill="#fff"/>
<ellipse cx="1072.2" cy="461.8" rx="7.4" ry="4.8" fill="#fff"/>
<ellipse cx="1179.0" cy="185.0" rx="7.4" ry="4.8" fill="#fff"/>
<ellipse cx="1179.0" cy="204.9" rx="7.4" ry="4.8" fill="#fff"/>
<ellipse cx="1178.9" cy="277.3" rx="7.4" ry="4.8" fill="#fff"/>
<ellipse cx="1178.9" cy="296.9" rx="7.4" ry="4.8" fill="#fff"/>
<ellipse cx="1164.4" cy="313.5" rx="7.4" ry="4.8" fill="#fff"/>
<ellipse cx="1174.2" cy="313.0" rx="7.4" ry="4.8" fill="#fff"/>
<ellipse cx="1184.0" cy="309.6" rx="7.4" ry="4.8" fill="#fff"/>
<ellipse cx="1194.2" cy="309.6" rx="7.4" ry="4.8" fill="#fff"/>
<ellipse cx="1178.9" cy="323.2" rx="7.4" ry="4.8" fill="#fff"/>
<ellipse cx="1174.2" cy="336.4" rx="7.4" ry="4.8" fill="#fff"/>
<ellipse cx="1184.0" cy="334.5" rx="7.4" ry="4.8" fill="#fff"/>
<ellipse cx="1178.9" cy="347.6" rx="7.4" ry="4.8" fill="#fff"/>
<ellipse cx="1179.2" cy="355.2" rx="7.4" ry="4.8" fill="#fff"/>
<ellipse cx="1188.8" cy="354.4" rx="7.4" ry="4.8" fill="#fff"/>
<ellipse cx="1169.0" cy="360.0" rx="7.4" ry="4.8" fill="#fff"/>
<ellipse cx="1149.6" cy="369.2" rx="7.4" ry="4.8" fill="#fff"/>
<ellipse cx="1159.2" cy="368.0" rx="7.4" ry="4.8" fill="#fff"/>
<ellipse cx="1169.0" cy="367.2" rx="7.4" ry="4.8" fill="#fff"/>
<ellipse cx="1178.8" cy="366.8" rx="7.4" ry="4.8" fill="#fff"/>
<ellipse cx="1188.8" cy="364.8" rx="7.4" ry="4.8" fill="#fff"/>
<ellipse cx="1198.4" cy="364.4" rx="7.4" ry="4.8" fill="#fff"/>
<ellipse cx="1208.0" cy="364.2" rx="7.4" ry="4.8" fill="#fff"/>
<ellipse cx="1164.4" cy="385.2" rx="7.4" ry="4.8" fill="#fff"/>
<ellipse cx="1174.4" cy="384.0" rx="7.4" ry="4.8" fill="#fff"/>
<ellipse cx="1184.4" cy="384.0" rx="7.4" ry="4.8" fill="#fff"/>
<ellipse cx="1194.4" cy="382.8" rx="7.4" ry="4.8" fill="#fff"/>
<ellipse cx="1174.4" cy="394.0" rx="7.4" ry="4.8" fill="#fff"/>
<ellipse cx="1184.4" cy="393.2" rx="7.4" ry="4.8" fill="#fff"/>
<ellipse cx="1169.0" cy="401.6" rx="7.4" ry="4.8" fill="#fff"/>
<ellipse cx="1178.8" cy="402.0" rx="7.4" ry="4.8" fill="#fff"/>
<ellipse cx="1188.8" cy="399.2" rx="7.4" ry="4.8" fill="#fff"/>
<ellipse cx="1154.0" cy="414.4" rx="7.4" ry="4.8" fill="#fff"/>
<ellipse cx="1164.0" cy="410.8" rx="7.4" ry="4.8" fill="#fff"/>
<ellipse cx="1174.0" cy="411.2" rx="7.4" ry="4.8" fill="#fff"/>
<ellipse cx="1184.0" cy="411.2" rx="7.4" ry="4.8" fill="#fff"/>
<ellipse cx="1194.0" cy="410.8" rx="7.4" ry="4.8" fill="#fff"/>
<ellipse cx="1204.0" cy="410.4" rx="7.4" ry="4.8" fill="#fff"/>
<ellipse cx="1159.2" cy="425.6" rx="7.4" ry="4.8" fill="#fff"/>
<ellipse cx="1169.0" cy="425.6" rx="7.4" ry="4.8" fill="#fff"/>
<ellipse cx="1179.2" cy="422.4" rx="7.4" ry="4.8" fill="#fff"/>
<ellipse cx="1188.8" cy="420.8" rx="7.4" ry="4.8" fill="#fff"/>
<ellipse cx="1199.2" cy="420.4" rx="7.4" ry="4.8" fill="#fff"/>
<ellipse cx="1174.4" cy="431.4" rx="7.4" ry="4.8" fill="#fff"/>
<ellipse cx="1184.4" cy="430.6" rx="7.4" ry="4.8" fill="#fff"/>
<ellipse cx="1184.4" cy="438.6" rx="7.4" ry="4.8" fill="#fff"/>
<ellipse cx="1174.4" cy="442.2" rx="7.4" ry="4.8" fill="#fff"/>
<ellipse cx="1179.2" cy="452.2" rx="7.4" ry="4.8" fill="#fff"/>
<ellipse cx="1159.2" cy="461.4" rx="7.4" ry="4.8" fill="#fff"/>
<ellipse cx="1169.0" cy="461.4" rx="7.4" ry="4.8" fill="#fff"/>
<ellipse cx="1179.2" cy="461.4" rx="7.4" ry="4.8" fill="#fff"/>
<ellipse cx="1188.8" cy="461.4" rx="7.4" ry="4.8" fill="#fff"/>
<ellipse cx="1199.2" cy="461.4" rx="7.4" ry="4.8" fill="#fff"/>
<ellipse cx="1315.5" cy="240.2" rx="7.4" ry="4.8" fill="#fff"/>
<ellipse cx="1315.5" cy="285.9" rx="7.4" ry="4.8" fill="#fff"/>
<ellipse cx="1305.4" cy="362.0" rx="7.4" ry="4.8" fill="#fff"/>
<ellipse cx="1315.6" cy="360.4" rx="7.4" ry="4.8" fill="#fff"/>
<ellipse cx="1325.4" cy="357.4" rx="7.4" ry="4.8" fill="#fff"/>
<ellipse cx="1315.2" cy="384.8" rx="7.4" ry="4.8" fill="#fff"/>
<ellipse cx="1321.0" cy="387.6" rx="7.4" ry="4.8" fill="#fff"/>
<ellipse cx="1311.0" cy="393.2" rx="7.4" ry="4.8" fill="#fff"/>
<ellipse cx="1325.4" cy="396.0" rx="7.4" ry="4.8" fill="#fff"/>
<ellipse cx="1305.4" cy="399.6" rx="7.4" ry="4.8" fill="#fff"/>
<ellipse cx="1315.6" cy="398.4" rx="7.4" ry="4.8" fill="#fff"/>
<ellipse cx="1310.6" cy="412.8" rx="7.4" ry="4.8" fill="#fff"/>
<ellipse cx="1320.6" cy="410.4" rx="7.4" ry="4.8" fill="#fff"/>
<ellipse cx="1315.6" cy="423.8" rx="7.4" ry="4.8" fill="#fff"/>
<ellipse cx="1315.6" cy="431.8" rx="7.4" ry="4.8" fill="#fff"/>
<ellipse cx="1290.2" cy="446.2" rx="7.4" ry="4.8" fill="#fff"/>
<ellipse cx="1300.2" cy="445.4" rx="7.4" ry="4.8" fill="#fff"/>
<ellipse cx="1310.2" cy="443.4" rx="7.4" ry="4.8" fill="#fff"/>
<ellipse cx="1320.2" cy="441.8" rx="7.4" ry="4.8" fill="#fff"/>
<ellipse cx="1330.6" cy="440.6" rx="7.4" ry="4.8" fill="#fff"/>
<ellipse cx="1340.6" cy="440.6" rx="7.4" ry="4.8" fill="#fff"/>
<ellipse cx="1310.6" cy="452.6" rx="7.4" ry="4.8" fill="#fff"/>
<ellipse cx="1320.6" cy="451.4" rx="7.4" ry="4.8" fill="#fff"/>
<ellipse cx="1284.2" cy="461.8" rx="7.4" ry="4.8" fill="#fff"/>
<ellipse cx="1290.2" cy="461.8" rx="7.4" ry="4.8" fill="#fff"/>
<ellipse cx="1296.6" cy="461.8" rx="7.4" ry="4.8" fill="#fff"/>
<ellipse cx="1303.0" cy="461.8" rx="7.4" ry="4.8" fill="#fff"/>
<ellipse cx="1309.0" cy="461.8" rx="7.4" ry="4.8" fill="#fff"/>
<ellipse cx="1315.4" cy="461.8" rx="7.4" ry="4.8" fill="#fff"/>
<ellipse cx="1321.4" cy="461.8" rx="7.4" ry="4.8" fill="#fff"/>
<ellipse cx="1327.8" cy="461.8" rx="7.4" ry="4.8" fill="#fff"/>
<ellipse cx="1333.8" cy="459.4" rx="7.4" ry="4.8" fill="#fff"/>
<ellipse cx="1340.2" cy="457.4" rx="7.4" ry="4.8" fill="#fff"/>
<ellipse cx="1346.2" cy="457.0" rx="7.4" ry="4.8" fill="#fff"/>
<line x1="892.50" y1="38.70" x2="892.50" y2="474.00" stroke="#000" stroke-width="2.6" stroke-linecap="butt"/>
<line x1="891.20" y1="473.00" x2="1466.40" y2="473.00" stroke="#000" stroke-width="2.6" stroke-linecap="butt"/>
<line x1="892.50" y1="461.80" x2="904.50" y2="461.80" stroke="#000" stroke-width="2.4" stroke-linecap="butt"/>
<text x="881.00" y="470.70" font-size="29" text-anchor="end" >0</text>
<line x1="892.50" y1="416.18" x2="904.50" y2="416.18" stroke="#000" stroke-width="2.4" stroke-linecap="butt"/>
<text x="881.00" y="425.08" font-size="29" text-anchor="end" >10</text>
<line x1="892.50" y1="370.57" x2="904.50" y2="370.57" stroke="#000" stroke-width="2.4" stroke-linecap="butt"/>
<text x="881.00" y="379.47" font-size="29" text-anchor="end" >20</text>
<line x1="892.50" y1="324.95" x2="904.50" y2="324.95" stroke="#000" stroke-width="2.4" stroke-linecap="butt"/>
<text x="881.00" y="333.85" font-size="29" text-anchor="end" >30</text>
<line x1="892.50" y1="279.33" x2="904.50" y2="279.33" stroke="#000" stroke-width="2.4" stroke-linecap="butt"/>
<text x="881.00" y="288.23" font-size="29" text-anchor="end" >40</text>
<line x1="892.50" y1="233.72" x2="904.50" y2="233.72" stroke="#000" stroke-width="2.4" stroke-linecap="butt"/>
<text x="881.00" y="242.62" font-size="29" text-anchor="end" >50</text>
<line x1="892.50" y1="188.10" x2="904.50" y2="188.10" stroke="#000" stroke-width="2.4" stroke-linecap="butt"/>
<text x="881.00" y="197.00" font-size="29" text-anchor="end" >60</text>
<line x1="892.50" y1="142.48" x2="904.50" y2="142.48" stroke="#000" stroke-width="2.4" stroke-linecap="butt"/>
<text x="881.00" y="151.38" font-size="29" text-anchor="end" >70</text>
<line x1="892.50" y1="96.86" x2="904.50" y2="96.86" stroke="#000" stroke-width="2.4" stroke-linecap="butt"/>
<text x="881.00" y="105.76" font-size="29" text-anchor="end" >80</text>
<line x1="892.50" y1="51.25" x2="904.50" y2="51.25" stroke="#000" stroke-width="2.4" stroke-linecap="butt"/>
<text x="881.00" y="60.15" font-size="29" text-anchor="end" >90</text>
<line x1="892.50" y1="438.99" x2="898.50" y2="438.99" stroke="#000" stroke-width="2.2" stroke-linecap="butt"/>
<line x1="892.50" y1="393.37" x2="898.50" y2="393.37" stroke="#000" stroke-width="2.2" stroke-linecap="butt"/>
<line x1="892.50" y1="347.76" x2="898.50" y2="347.76" stroke="#000" stroke-width="2.2" stroke-linecap="butt"/>
<line x1="892.50" y1="302.14" x2="898.50" y2="302.14" stroke="#000" stroke-width="2.2" stroke-linecap="butt"/>
<line x1="892.50" y1="256.52" x2="898.50" y2="256.52" stroke="#000" stroke-width="2.2" stroke-linecap="butt"/>
<line x1="892.50" y1="210.91" x2="898.50" y2="210.91" stroke="#000" stroke-width="2.2" stroke-linecap="butt"/>
<line x1="892.50" y1="165.29" x2="898.50" y2="165.29" stroke="#000" stroke-width="2.2" stroke-linecap="butt"/>
<line x1="892.50" y1="119.67" x2="898.50" y2="119.67" stroke="#000" stroke-width="2.2" stroke-linecap="butt"/>
<line x1="892.50" y1="74.06" x2="898.50" y2="74.06" stroke="#000" stroke-width="2.2" stroke-linecap="butt"/>
<line x1="1041.80" y1="466.00" x2="1041.80" y2="473.00" stroke="#000" stroke-width="2.2" stroke-linecap="butt"/>
<line x1="1179.00" y1="466.00" x2="1179.00" y2="473.00" stroke="#000" stroke-width="2.2" stroke-linecap="butt"/>
<line x1="1315.50" y1="466.00" x2="1315.50" y2="473.00" stroke="#000" stroke-width="2.2" stroke-linecap="butt"/>
<text x="1041.80" y="508.30" font-size="28" text-anchor="middle" >Control 1</text>
<text x="1179.00" y="508.30" font-size="28" text-anchor="middle" >Control 2</text>
<text x="1315.50" y="508.30" font-size="28" text-anchor="middle" >INCPH</text>
<text transform="translate(817,250.8) rotate(-90)" x="0" y="0" font-size="25.5" text-anchor="middle" textLength="209" lengthAdjust="spacingAndGlyphs">% of PTs with APV</text>
<line x1="1041.80" y1="277.60" x2="1041.80" y2="355.10" stroke="#000" stroke-width="2.2" stroke-linecap="butt"/>
<line x1="1041.80" y1="426.00" x2="1041.80" y2="461.80" stroke="#000" stroke-width="2.2" stroke-linecap="butt"/>
<line x1="1016.00" y1="277.60" x2="1067.60" y2="277.60" stroke="#000" stroke-width="2.4" stroke-linecap="butt"/>
<line x1="1016.00" y1="461.80" x2="1067.60" y2="461.80" stroke="#000" stroke-width="2.4" stroke-linecap="butt"/>
<rect x="990.80" y="355.10" width="102.50" height="70.90" fill="none" stroke="#000" stroke-width="2.5"/>
<line x1="990.80" y1="385.00" x2="1093.30" y2="385.00" stroke="#000" stroke-width="2.5" stroke-linecap="butt"/>
<line x1="1179.00" y1="277.30" x2="1179.00" y2="354.70" stroke="#000" stroke-width="2.2" stroke-linecap="butt"/>
<line x1="1179.00" y1="422.20" x2="1179.00" y2="461.40" stroke="#000" stroke-width="2.2" stroke-linecap="butt"/>
<line x1="1153.30" y1="277.30" x2="1204.70" y2="277.30" stroke="#000" stroke-width="2.4" stroke-linecap="butt"/>
<line x1="1153.30" y1="461.40" x2="1204.70" y2="461.40" stroke="#000" stroke-width="2.4" stroke-linecap="butt"/>
<rect x="1127.60" y="354.70" width="102.70" height="67.50" fill="none" stroke="#000" stroke-width="2.5"/>
<line x1="1127.60" y1="389.00" x2="1230.30" y2="389.00" stroke="#000" stroke-width="2.5" stroke-linecap="butt"/>
<line x1="1315.50" y1="357.30" x2="1315.50" y2="395.80" stroke="#000" stroke-width="2.2" stroke-linecap="butt"/>
<line x1="1315.50" y1="459.50" x2="1315.50" y2="461.80" stroke="#000" stroke-width="2.2" stroke-linecap="butt"/>
<line x1="1289.90" y1="357.30" x2="1341.10" y2="357.30" stroke="#000" stroke-width="2.4" stroke-linecap="butt"/>
<line x1="1289.90" y1="461.80" x2="1341.10" y2="461.80" stroke="#000" stroke-width="2.4" stroke-linecap="butt"/>
<rect x="1264.20" y="395.80" width="102.50" height="63.70" fill="none" stroke="#000" stroke-width="2.5"/>
<line x1="1264.20" y1="441.20" x2="1366.70" y2="441.20" stroke="#000" stroke-width="2.5" stroke-linecap="butt"/>
<circle cx="1042.0" cy="62.8" r="4.0" class="of"/>
<circle cx="1042.0" cy="185.0" r="4.0" class="of"/>
<circle cx="1042.0" cy="204.7" r="4.0" class="of"/>
<circle cx="1041.9" cy="277.6" r="4.0" class="of"/>
<circle cx="1037.2" cy="296.9" r="4.0" class="of"/>
<circle cx="1047.2" cy="295.6" r="4.0" class="of"/>
<circle cx="1027.5" cy="313.5" r="4.0" class="of"/>
<circle cx="1037.2" cy="313.2" r="4.0" class="of"/>
<circle cx="1047.2" cy="309.3" r="4.0" class="of"/>
<circle cx="1057.0" cy="309.3" r="4.0" class="of"/>
<circle cx="1041.9" cy="323.5" r="4.0" class="of"/>
<circle cx="1032.4" cy="336.2" r="4.0" class="of"/>
<circle cx="1041.9" cy="336.2" r="4.0" class="of"/>
<circle cx="1051.9" cy="334.4" r="4.0" class="of"/>
<circle cx="1037.2" cy="351.3" r="4.0" class="of"/>
<circle cx="1047.2" cy="347.4" r="4.0" class="of"/>
<circle cx="1047.2" cy="355.2" r="4.0" class="of"/>
<circle cx="1057.0" cy="354.7" r="4.0" class="of"/>
<circle cx="1027.4" cy="360.6" r="4.0" class="of"/>
<circle cx="1037.4" cy="359.8" r="4.0" class="of"/>
<circle cx="1022.2" cy="367.0" r="4.0" class="of"/>
<circle cx="1032.2" cy="366.6" r="4.0" class="of"/>
<circle cx="1042.2" cy="364.6" r="4.0" class="of"/>
<circle cx="1052.2" cy="364.2" r="4.0" class="of"/>
<circle cx="1062.2" cy="364.2" r="4.0" class="of"/>
<circle cx="1047.4" cy="375.0" r="4.0" class="of"/>
<circle cx="1037.4" cy="371.0" r="4.0" class="of"/>
<circle cx="1047.4" cy="369.4" r="4.0" class="of"/>
<circle cx="1057.0" cy="369.0" r="4.0" class="of"/>
<circle cx="1027.4" cy="373.4" r="4.0" class="of"/>
<circle cx="1037.4" cy="378.6" r="4.0" class="of"/>
<circle cx="1022.2" cy="385.4" r="4.0" class="of"/>
<circle cx="1032.2" cy="384.6" r="4.0" class="of"/>
<circle cx="1042.2" cy="384.6" r="4.0" class="of"/>
<circle cx="1052.2" cy="383.2" r="4.0" class="of"/>
<circle cx="1062.2" cy="383.2" r="4.0" class="of"/>
<circle cx="1042.2" cy="393.0" r="4.0" class="of"/>
<circle cx="1052.2" cy="393.8" r="4.0" class="of"/>
<circle cx="1042.2" cy="401.0" r="4.0" class="of"/>
<circle cx="1032.2" cy="399.4" r="4.0" class="of"/>
<circle cx="1052.2" cy="402.2" r="4.0" class="of"/>
<circle cx="1032.2" cy="406.6" r="4.0" class="of"/>
<circle cx="1026.6" cy="411.4" r="4.0" class="of"/>
<circle cx="1037.0" cy="411.4" r="4.0" class="of"/>
<circle cx="1046.6" cy="411.2" r="4.0" class="of"/>
<circle cx="1057.0" cy="411.0" r="4.0" class="of"/>
<circle cx="1067.0" cy="410.4" r="4.0" class="of"/>
<circle cx="1017.0" cy="414.4" r="4.0" class="of"/>
<circle cx="1022.2" cy="425.6" r="4.0" class="of"/>
<circle cx="1032.2" cy="425.0" r="4.0" class="of"/>
<circle cx="1042.2" cy="422.2" r="4.0" class="of"/>
<circle cx="1052.2" cy="420.6" r="4.0" class="of"/>
<circle cx="1062.2" cy="420.2" r="4.0" class="of"/>
<circle cx="1027.4" cy="433.0" r="4.0" class="of"/>
<circle cx="1037.4" cy="431.8" r="4.0" class="of"/>
<circle cx="1047.4" cy="431.4" r="4.0" class="of"/>
<circle cx="1057.0" cy="431.0" r="4.0" class="of"/>
<circle cx="1047.4" cy="439.0" r="4.0" class="of"/>
<circle cx="1037.4" cy="442.2" r="4.0" class="of"/>
<circle cx="1037.4" cy="451.8" r="4.0" class="of"/>
<circle cx="1047.4" cy="451.4" r="4.0" class="of"/>
<circle cx="1012.2" cy="461.8" r="4.0" class="of"/>
<circle cx="1020.6" cy="461.8" r="4.0" class="of"/>
<circle cx="1029.2" cy="461.8" r="4.0" class="of"/>
<circle cx="1037.8" cy="461.8" r="4.0" class="of"/>
<circle cx="1046.4" cy="461.8" r="4.0" class="of"/>
<circle cx="1055.0" cy="461.8" r="4.0" class="of"/>
<circle cx="1063.6" cy="461.8" r="4.0" class="of"/>
<circle cx="1072.2" cy="461.8" r="4.0" class="of"/>
<circle cx="1179.0" cy="185.0" r="4.0" class="of"/>
<circle cx="1179.0" cy="204.9" r="4.0" class="of"/>
<circle cx="1178.9" cy="277.3" r="4.0" class="of"/>
<circle cx="1178.9" cy="296.9" r="4.0" class="of"/>
<circle cx="1164.4" cy="313.5" r="4.0" class="of"/>
<circle cx="1174.2" cy="313.0" r="4.0" class="of"/>
<circle cx="1184.0" cy="309.6" r="4.0" class="of"/>
<circle cx="1194.2" cy="309.6" r="4.0" class="of"/>
<circle cx="1178.9" cy="323.2" r="4.0" class="of"/>
<circle cx="1174.2" cy="336.4" r="4.0" class="of"/>
<circle cx="1184.0" cy="334.5" r="4.0" class="of"/>
<circle cx="1178.9" cy="347.6" r="4.0" class="of"/>
<circle cx="1179.2" cy="355.2" r="4.0" class="of"/>
<circle cx="1188.8" cy="354.4" r="4.0" class="of"/>
<circle cx="1169.0" cy="360.0" r="4.0" class="of"/>
<circle cx="1149.6" cy="369.2" r="4.0" class="of"/>
<circle cx="1159.2" cy="368.0" r="4.0" class="of"/>
<circle cx="1169.0" cy="367.2" r="4.0" class="of"/>
<circle cx="1178.8" cy="366.8" r="4.0" class="of"/>
<circle cx="1188.8" cy="364.8" r="4.0" class="of"/>
<circle cx="1198.4" cy="364.4" r="4.0" class="of"/>
<circle cx="1208.0" cy="364.2" r="4.0" class="of"/>
<circle cx="1164.4" cy="385.2" r="4.0" class="of"/>
<circle cx="1174.4" cy="384.0" r="4.0" class="of"/>
<circle cx="1184.4" cy="384.0" r="4.0" class="of"/>
<circle cx="1194.4" cy="382.8" r="4.0" class="of"/>
<circle cx="1174.4" cy="394.0" r="4.0" class="of"/>
<circle cx="1184.4" cy="393.2" r="4.0" class="of"/>
<circle cx="1169.0" cy="401.6" r="4.0" class="of"/>
<circle cx="1178.8" cy="402.0" r="4.0" class="of"/>
<circle cx="1188.8" cy="399.2" r="4.0" class="of"/>
<circle cx="1154.0" cy="414.4" r="4.0" class="of"/>
<circle cx="1164.0" cy="410.8" r="4.0" class="of"/>
<circle cx="1174.0" cy="411.2" r="4.0" class="of"/>
<circle cx="1184.0" cy="411.2" r="4.0" class="of"/>
<circle cx="1194.0" cy="410.8" r="4.0" class="of"/>
<circle cx="1204.0" cy="410.4" r="4.0" class="of"/>
<circle cx="1159.2" cy="425.6" r="4.0" class="of"/>
<circle cx="1169.0" cy="425.6" r="4.0" class="of"/>
<circle cx="1179.2" cy="422.4" r="4.0" class="of"/>
<circle cx="1188.8" cy="420.8" r="4.0" class="of"/>
<circle cx="1199.2" cy="420.4" r="4.0" class="of"/>
<circle cx="1174.4" cy="431.4" r="4.0" class="of"/>
<circle cx="1184.4" cy="430.6" r="4.0" class="of"/>
<circle cx="1184.4" cy="438.6" r="4.0" class="of"/>
<circle cx="1174.4" cy="442.2" r="4.0" class="of"/>
<circle cx="1179.2" cy="452.2" r="4.0" class="of"/>
<circle cx="1159.2" cy="461.4" r="4.0" class="of"/>
<circle cx="1169.0" cy="461.4" r="4.0" class="of"/>
<circle cx="1179.2" cy="461.4" r="4.0" class="of"/>
<circle cx="1188.8" cy="461.4" r="4.0" class="of"/>
<circle cx="1199.2" cy="461.4" r="4.0" class="of"/>
<circle cx="1315.5" cy="240.2" r="4.0" class="of"/>
<circle cx="1315.5" cy="285.9" r="4.0" class="of"/>
<circle cx="1305.4" cy="362.0" r="4.0" class="of"/>
<circle cx="1315.6" cy="360.4" r="4.0" class="of"/>
<circle cx="1325.4" cy="357.4" r="4.0" class="of"/>
<circle cx="1315.2" cy="384.8" r="4.0" class="of"/>
<circle cx="1321.0" cy="387.6" r="4.0" class="of"/>
<circle cx="1311.0" cy="393.2" r="4.0" class="of"/>
<circle cx="1325.4" cy="396.0" r="4.0" class="of"/>
<circle cx="1305.4" cy="399.6" r="4.0" class="of"/>
<circle cx="1315.6" cy="398.4" r="4.0" class="of"/>
<circle cx="1310.6" cy="412.8" r="4.0" class="of"/>
<circle cx="1320.6" cy="410.4" r="4.0" class="of"/>
<circle cx="1315.6" cy="423.8" r="4.0" class="of"/>
<circle cx="1315.6" cy="431.8" r="4.0" class="of"/>
<circle cx="1290.2" cy="446.2" r="4.0" class="of"/>
<circle cx="1300.2" cy="445.4" r="4.0" class="of"/>
<circle cx="1310.2" cy="443.4" r="4.0" class="of"/>
<circle cx="1320.2" cy="441.8" r="4.0" class="of"/>
<circle cx="1330.6" cy="440.6" r="4.0" class="of"/>
<circle cx="1340.6" cy="440.6" r="4.0" class="of"/>
<circle cx="1310.6" cy="452.6" r="4.0" class="of"/>
<circle cx="1320.6" cy="451.4" r="4.0" class="of"/>
<circle cx="1284.2" cy="461.8" r="4.0" class="of"/>
<circle cx="1290.2" cy="461.8" r="4.0" class="of"/>
<circle cx="1296.6" cy="461.8" r="4.0" class="of"/>
<circle cx="1303.0" cy="461.8" r="4.0" class="of"/>
<circle cx="1309.0" cy="461.8" r="4.0" class="of"/>
<circle cx="1315.4" cy="461.8" r="4.0" class="of"/>
<circle cx="1321.4" cy="461.8" r="4.0" class="of"/>
<circle cx="1327.8" cy="461.8" r="4.0" class="of"/>
<circle cx="1333.8" cy="459.4" r="4.0" class="of"/>
<circle cx="1340.2" cy="457.4" r="4.0" class="of"/>
<circle cx="1346.2" cy="457.0" r="4.0" class="of"/>
<circle cx="1042.0" cy="62.8" r="4.0" class="o"/>
<circle cx="1042.0" cy="185.0" r="4.0" class="o"/>
<circle cx="1042.0" cy="204.7" r="4.0" class="o"/>
<circle cx="1041.9" cy="277.6" r="4.0" class="o"/>
<circle cx="1037.2" cy="296.9" r="4.0" class="o"/>
<circle cx="1047.2" cy="295.6" r="4.0" class="o"/>
<circle cx="1027.5" cy="313.5" r="4.0" class="o"/>
<circle cx="1037.2" cy="313.2" r="4.0" class="o"/>
<circle cx="1047.2" cy="309.3" r="4.0" class="o"/>
<circle cx="1057.0" cy="309.3" r="4.0" class="o"/>
<circle cx="1041.9" cy="323.5" r="4.0" class="o"/>
<circle cx="1032.4" cy="336.2" r="4.0" class="o"/>
<circle cx="1041.9" cy="336.2" r="4.0" class="o"/>
<circle cx="1051.9" cy="334.4" r="4.0" class="o"/>
<circle cx="1037.2" cy="351.3" r="4.0" class="o"/>
<circle cx="1047.2" cy="347.4" r="4.0" class="o"/>
<circle cx="1047.2" cy="355.2" r="4.0" class="o"/>
<circle cx="1057.0" cy="354.7" r="4.0" class="o"/>
<circle cx="1027.4" cy="360.6" r="4.0" class="o"/>
<circle cx="1037.4" cy="359.8" r="4.0" class="o"/>
<circle cx="1022.2" cy="367.0" r="4.0" class="o"/>
<circle cx="1032.2" cy="366.6" r="4.0" class="o"/>
<circle cx="1042.2" cy="364.6" r="4.0" class="o"/>
<circle cx="1052.2" cy="364.2" r="4.0" class="o"/>
<circle cx="1062.2" cy="364.2" r="4.0" class="o"/>
<circle cx="1047.4" cy="375.0" r="4.0" class="o"/>
<circle cx="1037.4" cy="371.0" r="4.0" class="o"/>
<circle cx="1047.4" cy="369.4" r="4.0" class="o"/>
<circle cx="1057.0" cy="369.0" r="4.0" class="o"/>
<circle cx="1027.4" cy="373.4" r="4.0" class="o"/>
<circle cx="1037.4" cy="378.6" r="4.0" class="o"/>
<circle cx="1022.2" cy="385.4" r="4.0" class="o"/>
<circle cx="1032.2" cy="384.6" r="4.0" class="o"/>
<circle cx="1042.2" cy="384.6" r="4.0" class="o"/>
<circle cx="1052.2" cy="383.2" r="4.0" class="o"/>
<circle cx="1062.2" cy="383.2" r="4.0" class="o"/>
<circle cx="1042.2" cy="393.0" r="4.0" class="o"/>
<circle cx="1052.2" cy="393.8" r="4.0" class="o"/>
<circle cx="1042.2" cy="401.0" r="4.0" class="o"/>
<circle cx="1032.2" cy="399.4" r="4.0" class="o"/>
<circle cx="1052.2" cy="402.2" r="4.0" class="o"/>
<circle cx="1032.2" cy="406.6" r="4.0" class="o"/>
<circle cx="1026.6" cy="411.4" r="4.0" class="o"/>
<circle cx="1037.0" cy="411.4" r="4.0" class="o"/>
<circle cx="1046.6" cy="411.2" r="4.0" class="o"/>
<circle cx="1057.0" cy="411.0" r="4.0" class="o"/>
<circle cx="1067.0" cy="410.4" r="4.0" class="o"/>
<circle cx="1017.0" cy="414.4" r="4.0" class="o"/>
<circle cx="1022.2" cy="425.6" r="4.0" class="o"/>
<circle cx="1032.2" cy="425.0" r="4.0" class="o"/>
<circle cx="1042.2" cy="422.2" r="4.0" class="o"/>
<circle cx="1052.2" cy="420.6" r="4.0" class="o"/>
<circle cx="1062.2" cy="420.2" r="4.0" class="o"/>
<circle cx="1027.4" cy="433.0" r="4.0" class="o"/>
<circle cx="1037.4" cy="431.8" r="4.0" class="o"/>
<circle cx="1047.4" cy="431.4" r="4.0" class="o"/>
<circle cx="1057.0" cy="431.0" r="4.0" class="o"/>
<circle cx="1047.4" cy="439.0" r="4.0" class="o"/>
<circle cx="1037.4" cy="442.2" r="4.0" class="o"/>
<circle cx="1037.4" cy="451.8" r="4.0" class="o"/>
<circle cx="1047.4" cy="451.4" r="4.0" class="o"/>
<circle cx="1012.2" cy="461.8" r="4.0" class="o"/>
<circle cx="1020.6" cy="461.8" r="4.0" class="o"/>
<circle cx="1029.2" cy="461.8" r="4.0" class="o"/>
<circle cx="1037.8" cy="461.8" r="4.0" class="o"/>
<circle cx="1046.4" cy="461.8" r="4.0" class="o"/>
<circle cx="1055.0" cy="461.8" r="4.0" class="o"/>
<circle cx="1063.6" cy="461.8" r="4.0" class="o"/>
<circle cx="1072.2" cy="461.8" r="4.0" class="o"/>
<circle cx="1179.0" cy="185.0" r="4.0" class="o"/>
<circle cx="1179.0" cy="204.9" r="4.0" class="o"/>
<circle cx="1178.9" cy="277.3" r="4.0" class="o"/>
<circle cx="1178.9" cy="296.9" r="4.0" class="o"/>
<circle cx="1164.4" cy="313.5" r="4.0" class="o"/>
<circle cx="1174.2" cy="313.0" r="4.0" class="o"/>
<circle cx="1184.0" cy="309.6" r="4.0" class="o"/>
<circle cx="1194.2" cy="309.6" r="4.0" class="o"/>
<circle cx="1178.9" cy="323.2" r="4.0" class="o"/>
<circle cx="1174.2" cy="336.4" r="4.0" class="o"/>
<circle cx="1184.0" cy="334.5" r="4.0" class="o"/>
<circle cx="1178.9" cy="347.6" r="4.0" class="o"/>
<circle cx="1179.2" cy="355.2" r="4.0" class="o"/>
<circle cx="1188.8" cy="354.4" r="4.0" class="o"/>
<circle cx="1169.0" cy="360.0" r="4.0" class="o"/>
<circle cx="1149.6" cy="369.2" r="4.0" class="o"/>
<circle cx="1159.2" cy="368.0" r="4.0" class="o"/>
<circle cx="1169.0" cy="367.2" r="4.0" class="o"/>
<circle cx="1178.8" cy="366.8" r="4.0" class="o"/>
<circle cx="1188.8" cy="364.8" r="4.0" class="o"/>
<circle cx="1198.4" cy="364.4" r="4.0" class="o"/>
<circle cx="1208.0" cy="364.2" r="4.0" class="o"/>
<circle cx="1164.4" cy="385.2" r="4.0" class="o"/>
<circle cx="1174.4" cy="384.0" r="4.0" class="o"/>
<circle cx="1184.4" cy="384.0" r="4.0" class="o"/>
<circle cx="1194.4" cy="382.8" r="4.0" class="o"/>
<circle cx="1174.4" cy="394.0" r="4.0" class="o"/>
<circle cx="1184.4" cy="393.2" r="4.0" class="o"/>
<circle cx="1169.0" cy="401.6" r="4.0" class="o"/>
<circle cx="1178.8" cy="402.0" r="4.0" class="o"/>
<circle cx="1188.8" cy="399.2" r="4.0" class="o"/>
<circle cx="1154.0" cy="414.4" r="4.0" class="o"/>
<circle cx="1164.0" cy="410.8" r="4.0" class="o"/>
<circle cx="1174.0" cy="411.2" r="4.0" class="o"/>
<circle cx="1184.0" cy="411.2" r="4.0" class="o"/>
<circle cx="1194.0" cy="410.8" r="4.0" class="o"/>
<circle cx="1204.0" cy="410.4" r="4.0" class="o"/>
<circle cx="1159.2" cy="425.6" r="4.0" class="o"/>
<circle cx="1169.0" cy="425.6" r="4.0" class="o"/>
<circle cx="1179.2" cy="422.4" r="4.0" class="o"/>
<circle cx="1188.8" cy="420.8" r="4.0" class="o"/>
<circle cx="1199.2" cy="420.4" r="4.0" class="o"/>
<circle cx="1174.4" cy="431.4" r="4.0" class="o"/>
<circle cx="1184.4" cy="430.6" r="4.0" class="o"/>
<circle cx="1184.4" cy="438.6" r="4.0" class="o"/>
<circle cx="1174.4" cy="442.2" r="4.0" class="o"/>
<circle cx="1179.2" cy="452.2" r="4.0" class="o"/>
<circle cx="1159.2" cy="461.4" r="4.0" class="o"/>
<circle cx="1169.0" cy="461.4" r="4.0" class="o"/>
<circle cx="1179.2" cy="461.4" r="4.0" class="o"/>
<circle cx="1188.8" cy="461.4" r="4.0" class="o"/>
<circle cx="1199.2" cy="461.4" r="4.0" class="o"/>
<circle cx="1315.5" cy="240.2" r="4.0" class="o"/>
<circle cx="1315.5" cy="285.9" r="4.0" class="o"/>
<circle cx="1305.4" cy="362.0" r="4.0" class="o"/>
<circle cx="1315.6" cy="360.4" r="4.0" class="o"/>
<circle cx="1325.4" cy="357.4" r="4.0" class="o"/>
<circle cx="1315.2" cy="384.8" r="4.0" class="o"/>
<circle cx="1321.0" cy="387.6" r="4.0" class="o"/>
<circle cx="1311.0" cy="393.2" r="4.0" class="o"/>
<circle cx="1325.4" cy="396.0" r="4.0" class="o"/>
<circle cx="1305.4" cy="399.6" r="4.0" class="o"/>
<circle cx="1315.6" cy="398.4" r="4.0" class="o"/>
<circle cx="1310.6" cy="412.8" r="4.0" class="o"/>
<circle cx="1320.6" cy="410.4" r="4.0" class="o"/>
<circle cx="1315.6" cy="423.8" r="4.0" class="o"/>
<circle cx="1315.6" cy="431.8" r="4.0" class="o"/>
<circle cx="1290.2" cy="446.2" r="4.0" class="o"/>
<circle cx="1300.2" cy="445.4" r="4.0" class="o"/>
<circle cx="1310.2" cy="443.4" r="4.0" class="o"/>
<circle cx="1320.2" cy="441.8" r="4.0" class="o"/>
<circle cx="1330.6" cy="440.6" r="4.0" class="o"/>
<circle cx="1340.6" cy="440.6" r="4.0" class="o"/>
<circle cx="1310.6" cy="452.6" r="4.0" class="o"/>
<circle cx="1320.6" cy="451.4" r="4.0" class="o"/>
<circle cx="1284.2" cy="461.8" r="4.0" class="o"/>
<circle cx="1290.2" cy="461.8" r="4.0" class="o"/>
<circle cx="1296.6" cy="461.8" r="4.0" class="o"/>
<circle cx="1303.0" cy="461.8" r="4.0" class="o"/>
<circle cx="1309.0" cy="461.8" r="4.0" class="o"/>
<circle cx="1315.4" cy="461.8" r="4.0" class="o"/>
<circle cx="1321.4" cy="461.8" r="4.0" class="o"/>
<circle cx="1327.8" cy="461.8" r="4.0" class="o"/>
<circle cx="1333.8" cy="459.4" r="4.0" class="o"/>
<circle cx="1340.2" cy="457.4" r="4.0" class="o"/>
<circle cx="1346.2" cy="457.0" r="4.0" class="o"/>
</g>
<text x="562.5" y="88.1" font-size="30" textLength="111" lengthAdjust="spacingAndGlyphs"><tspan font-style="italic">p</tspan>&lt;0.001</text>
<text x="1349.8" y="88.2" font-size="30" textLength="94" lengthAdjust="spacingAndGlyphs"><tspan font-style="italic">p</tspan>&gt;0.05</text>
<g class="C">
<line x1="97.80" y1="587.50" x2="97.80" y2="975.00" stroke="#3a3a3a" stroke-width="1.6" stroke-linecap="butt"/>
<line x1="97.00" y1="974.30" x2="704.10" y2="974.30" stroke="#3a3a3a" stroke-width="1.6" stroke-linecap="butt"/>
<line x1="90.40" y1="962.70" x2="97.80" y2="962.70" stroke="#3a3a3a" stroke-width="1.5" stroke-linecap="butt"/>
<text x="87.50" y="968.70" font-size="18.5" text-anchor="end" >0.00</text>
<line x1="109.20" y1="974.30" x2="109.20" y2="981.20" stroke="#3a3a3a" stroke-width="1.5" stroke-linecap="butt"/>
<text x="109.20" y="998.20" font-size="18.5" text-anchor="middle" >0.00</text>
<line x1="90.40" y1="889.96" x2="97.80" y2="889.96" stroke="#3a3a3a" stroke-width="1.5" stroke-linecap="butt"/>
<text x="87.50" y="895.96" font-size="18.5" text-anchor="end" >0.20</text>
<line x1="225.92" y1="974.30" x2="225.92" y2="981.20" stroke="#3a3a3a" stroke-width="1.5" stroke-linecap="butt"/>
<text x="225.92" y="998.20" font-size="18.5" text-anchor="middle" >0.20</text>
<line x1="90.40" y1="817.22" x2="97.80" y2="817.22" stroke="#3a3a3a" stroke-width="1.5" stroke-linecap="butt"/>
<text x="87.50" y="823.22" font-size="18.5" text-anchor="end" >0.40</text>
<line x1="342.64" y1="974.30" x2="342.64" y2="981.20" stroke="#3a3a3a" stroke-width="1.5" stroke-linecap="butt"/>
<text x="342.64" y="998.20" font-size="18.5" text-anchor="middle" >0.40</text>
<line x1="90.40" y1="744.48" x2="97.80" y2="744.48" stroke="#3a3a3a" stroke-width="1.5" stroke-linecap="butt"/>
<text x="87.50" y="750.48" font-size="18.5" text-anchor="end" >0.60</text>
<line x1="459.36" y1="974.30" x2="459.36" y2="981.20" stroke="#3a3a3a" stroke-width="1.5" stroke-linecap="butt"/>
<text x="459.36" y="998.20" font-size="18.5" text-anchor="middle" >0.60</text>
<line x1="90.40" y1="671.74" x2="97.80" y2="671.74" stroke="#3a3a3a" stroke-width="1.5" stroke-linecap="butt"/>
<text x="87.50" y="677.74" font-size="18.5" text-anchor="end" >0.80</text>
<line x1="576.08" y1="974.30" x2="576.08" y2="981.20" stroke="#3a3a3a" stroke-width="1.5" stroke-linecap="butt"/>
<text x="576.08" y="998.20" font-size="18.5" text-anchor="middle" >0.80</text>
<line x1="90.40" y1="599.00" x2="97.80" y2="599.00" stroke="#3a3a3a" stroke-width="1.5" stroke-linecap="butt"/>
<text x="87.50" y="605.00" font-size="18.5" text-anchor="end" >1.00</text>
<line x1="692.80" y1="974.30" x2="692.80" y2="981.20" stroke="#3a3a3a" stroke-width="1.5" stroke-linecap="butt"/>
<text x="692.80" y="998.20" font-size="18.5" text-anchor="middle" >1.00</text>
<line x1="109.20" y1="962.70" x2="692.80" y2="599.00" stroke="#111" stroke-width="1.6" stroke-linecap="butt"/>
<path d="M109.20,962.70 L109.20,952.00 L109.20,941.31 L109.20,930.61 L109.20,919.91 L109.20,909.22 L109.20,898.52 L120.42,898.52 L120.42,887.82 L120.42,877.12 L120.42,866.43 L120.42,855.73 L120.42,845.03 L120.42,834.34 L120.42,823.64 L120.42,812.94 L120.42,802.25 L120.42,770.15 L131.65,770.15 L131.65,759.46 L131.65,748.76 L131.65,738.06 L131.65,727.37 L131.65,716.67 L142.87,716.67 L142.87,705.97 L154.09,705.97 L176.54,705.97 L176.54,695.28 L176.54,684.58 L187.76,673.88 L198.98,673.88 L210.21,673.88 L221.43,673.88 L221.43,663.18 L221.43,652.49 L232.65,652.49 L266.32,631.09 L288.77,631.09 L299.99,631.09 L311.21,631.09 L322.44,631.09 L333.66,631.09 L344.88,631.09 L692.80,599.00" fill="none" stroke="#111" stroke-width="1.6" stroke-linejoin="round"/>
<circle cx="109.20" cy="962.70" r="4.6" fill="#000"/>
<circle cx="109.20" cy="952.00" r="4.6" fill="#000"/>
<circle cx="109.20" cy="941.31" r="4.6" fill="#000"/>
<circle cx="109.20" cy="930.61" r="4.6" fill="#000"/>
<circle cx="109.20" cy="919.91" r="4.6" fill="#000"/>
<circle cx="109.20" cy="909.22" r="4.6" fill="#000"/>
<circle cx="109.20" cy="898.52" r="4.6" fill="#000"/>
<circle cx="120.42" cy="898.52" r="4.6" fill="#000"/>
<circle cx="120.42" cy="887.82" r="4.6" fill="#000"/>
<circle cx="120.42" cy="877.12" r="4.6" fill="#000"/>
<circle cx="120.42" cy="866.43" r="4.6" fill="#000"/>
<circle cx="120.42" cy="855.73" r="4.6" fill="#000"/>
<circle cx="120.42" cy="845.03" r="4.6" fill="#000"/>
<circle cx="120.42" cy="834.34" r="4.6" fill="#000"/>
<circle cx="120.42" cy="823.64" r="4.6" fill="#000"/>
<circle cx="120.42" cy="812.94" r="4.6" fill="#000"/>
<circle cx="120.42" cy="802.25" r="4.6" fill="#000"/>
<circle cx="120.42" cy="770.15" r="4.6" fill="#000"/>
<circle cx="131.65" cy="770.15" r="4.6" fill="#000"/>
<circle cx="131.65" cy="759.46" r="4.6" fill="#000"/>
<circle cx="131.65" cy="748.76" r="4.6" fill="#000"/>
<circle cx="131.65" cy="738.06" r="4.6" fill="#000"/>
<circle cx="131.65" cy="727.37" r="4.6" fill="#000"/>
<circle cx="131.65" cy="716.67" r="4.6" fill="#000"/>
<circle cx="142.87" cy="716.67" r="4.6" fill="#000"/>
<circle cx="142.87" cy="705.97" r="4.6" fill="#000"/>
<circle cx="154.09" cy="705.97" r="4.6" fill="#000"/>
<circle cx="176.54" cy="705.97" r="4.6" fill="#000"/>
<circle cx="176.54" cy="695.28" r="4.6" fill="#000"/>
<circle cx="176.54" cy="684.58" r="4.6" fill="#000"/>
<circle cx="187.76" cy="673.88" r="4.6" fill="#000"/>
<circle cx="198.98" cy="673.88" r="4.6" fill="#000"/>
<circle cx="210.21" cy="673.88" r="4.6" fill="#000"/>
<circle cx="221.43" cy="673.88" r="4.6" fill="#000"/>
<circle cx="221.43" cy="663.18" r="4.6" fill="#000"/>
<circle cx="221.43" cy="652.49" r="4.6" fill="#000"/>
<circle cx="232.65" cy="652.49" r="4.6" fill="#000"/>
<circle cx="266.32" cy="631.09" r="4.6" fill="#000"/>
<circle cx="288.77" cy="631.09" r="4.6" fill="#000"/>
<circle cx="299.99" cy="631.09" r="4.6" fill="#000"/>
<circle cx="311.21" cy="631.09" r="4.6" fill="#000"/>
<circle cx="322.44" cy="631.09" r="4.6" fill="#000"/>
<circle cx="333.66" cy="631.09" r="4.6" fill="#000"/>
<circle cx="344.88" cy="631.09" r="4.6" fill="#000"/>
<circle cx="692.80" cy="599.00" r="4.6" fill="#000"/>
<text transform="translate(36,780.7) rotate(-90)" x="0" y="0" font-size="18" text-anchor="middle">Sensitivity</text>
<text x="401.50" y="1017.30" font-size="18" text-anchor="middle" >1 - Specificity</text>
<text x="418.5" y="870.5" font-size="26" textLength="279" lengthAdjust="spacingAndGlyphs">% of PTs with PVS alone</text>
<text x="539.2" y="918.8" font-size="26" textLength="159" lengthAdjust="spacingAndGlyphs">AUC = 0.8880</text>
</g>
<g class="D">
<line x1="885.70" y1="587.50" x2="885.70" y2="975.00" stroke="#3a3a3a" stroke-width="1.6" stroke-linecap="butt"/>
<line x1="884.90" y1="974.30" x2="1492.00" y2="974.30" stroke="#3a3a3a" stroke-width="1.6" stroke-linecap="butt"/>
<line x1="878.30" y1="962.80" x2="885.70" y2="962.80" stroke="#3a3a3a" stroke-width="1.5" stroke-linecap="butt"/>
<text x="875.00" y="968.80" font-size="18.5" text-anchor="end" >0.00</text>
<line x1="897.10" y1="974.30" x2="897.10" y2="981.20" stroke="#3a3a3a" stroke-width="1.5" stroke-linecap="butt"/>
<text x="897.10" y="998.20" font-size="18.5" text-anchor="middle" >0.00</text>
<line x1="878.30" y1="890.06" x2="885.70" y2="890.06" stroke="#3a3a3a" stroke-width="1.5" stroke-linecap="butt"/>
<text x="875.00" y="896.06" font-size="18.5" text-anchor="end" >0.20</text>
<line x1="1013.82" y1="974.30" x2="1013.82" y2="981.20" stroke="#3a3a3a" stroke-width="1.5" stroke-linecap="butt"/>
<text x="1013.82" y="998.20" font-size="18.5" text-anchor="middle" >0.20</text>
<line x1="878.30" y1="817.32" x2="885.70" y2="817.32" stroke="#3a3a3a" stroke-width="1.5" stroke-linecap="butt"/>
<text x="875.00" y="823.32" font-size="18.5" text-anchor="end" >0.40</text>
<line x1="1130.54" y1="974.30" x2="1130.54" y2="981.20" stroke="#3a3a3a" stroke-width="1.5" stroke-linecap="butt"/>
<text x="1130.54" y="998.20" font-size="18.5" text-anchor="middle" >0.40</text>
<line x1="878.30" y1="744.58" x2="885.70" y2="744.58" stroke="#3a3a3a" stroke-width="1.5" stroke-linecap="butt"/>
<text x="875.00" y="750.58" font-size="18.5" text-anchor="end" >0.60</text>
<line x1="1247.26" y1="974.30" x2="1247.26" y2="981.20" stroke="#3a3a3a" stroke-width="1.5" stroke-linecap="butt"/>
<text x="1247.26" y="998.20" font-size="18.5" text-anchor="middle" >0.60</text>
<line x1="878.30" y1="671.84" x2="885.70" y2="671.84" stroke="#3a3a3a" stroke-width="1.5" stroke-linecap="butt"/>
<text x="875.00" y="677.84" font-size="18.5" text-anchor="end" >0.80</text>
<line x1="1363.98" y1="974.30" x2="1363.98" y2="981.20" stroke="#3a3a3a" stroke-width="1.5" stroke-linecap="butt"/>
<text x="1363.98" y="998.20" font-size="18.5" text-anchor="middle" >0.80</text>
<line x1="878.30" y1="599.10" x2="885.70" y2="599.10" stroke="#3a3a3a" stroke-width="1.5" stroke-linecap="butt"/>
<text x="875.00" y="605.10" font-size="18.5" text-anchor="end" >1.00</text>
<line x1="1480.70" y1="974.30" x2="1480.70" y2="981.20" stroke="#3a3a3a" stroke-width="1.5" stroke-linecap="butt"/>
<text x="1480.70" y="998.20" font-size="18.5" text-anchor="middle" >1.00</text>
<line x1="897.10" y1="962.80" x2="1480.70" y2="599.10" stroke="#111" stroke-width="1.6" stroke-linecap="butt"/>
<path d="M897.10,962.80 L897.10,952.10 L897.10,941.40 L897.10,930.70 L897.10,920.00 L897.10,909.30 L897.10,898.60 L908.32,898.60 L908.32,887.90 L908.32,877.20 L908.32,866.50 L908.32,855.80 L908.32,845.10 L908.32,834.40 L908.32,823.70 L908.32,813.00 L908.32,802.30 L908.32,791.60 L908.32,780.90 L919.55,780.90 L919.55,770.20 L919.55,759.50 L919.55,748.80 L919.55,738.10 L930.77,738.10 L930.77,727.40 L930.77,716.70 L941.99,716.70 L941.99,706.00 L941.99,695.30 L953.22,695.30 L964.44,695.30 L964.44,684.60 L975.66,684.60 L975.66,673.90 L986.88,673.90 L998.11,673.90 L1009.33,673.90 L1020.55,673.90 L1020.55,663.20 L1031.78,663.20 L1043.00,663.20 L1043.00,652.50 L1054.22,652.50 L1054.22,641.80 L1054.22,631.10 L1065.44,631.10 L1076.67,631.10 L1087.89,631.10 L1099.11,631.10 L1132.78,609.70 L1144.01,609.70 L1155.23,609.70 L1166.45,609.70 L1177.68,599.00 L1188.90,599.00 L1200.12,599.00 L1233.79,599.00 L1245.01,599.00 L1256.24,599.00 L1267.46,599.00 L1278.68,599.00 L1289.90,599.00 L1301.13,599.00 L1312.35,599.00 L1323.57,599.00 L1334.80,599.00 L1346.02,599.00 L1357.24,599.00 L1368.47,599.00 L1379.69,599.00 L1390.91,599.00 L1402.13,599.00 L1413.36,599.00 L1424.58,599.00 L1447.03,599.00 L1458.25,599.00 L1469.47,599.00 L1480.70,599.00" fill="none" stroke="#111" stroke-width="1.6" stroke-linejoin="round"/>
<circle cx="897.10" cy="962.80" r="4.6" fill="#000"/>
<circle cx="897.10" cy="952.10" r="4.6" fill="#000"/>
<circle cx="897.10" cy="941.40" r="4.6" fill="#000"/>
<circle cx="897.10" cy="930.70" r="4.6" fill="#000"/>
<circle cx="897.10" cy="920.00" r="4.6" fill="#000"/>
<circle cx="897.10" cy="909.30" r="4.6" fill="#000"/>
<circle cx="897.10" cy="898.60" r="4.6" fill="#000"/>
<circle cx="908.32" cy="898.60" r="4.6" fill="#000"/>
<circle cx="908.32" cy="887.90" r="4.6" fill="#000"/>
<circle cx="908.32" cy="877.20" r="4.6" fill="#000"/>
<circle cx="908.32" cy="866.50" r="4.6" fill="#000"/>
<circle cx="908.32" cy="855.80" r="4.6" fill="#000"/>
<circle cx="908.32" cy="845.10" r="4.6" fill="#000"/>
<circle cx="908.32" cy="834.40" r="4.6" fill="#000"/>
<circle cx="908.32" cy="823.70" r="4.6" fill="#000"/>
<circle cx="908.32" cy="813.00" r="4.6" fill="#000"/>
<circle cx="908.32" cy="802.30" r="4.6" fill="#000"/>
<circle cx="908.32" cy="791.60" r="4.6" fill="#000"/>
<circle cx="908.32" cy="780.90" r="4.6" fill="#000"/>
<circle cx="919.55" cy="780.90" r="4.6" fill="#000"/>
<circle cx="919.55" cy="770.20" r="4.6" fill="#000"/>
<circle cx="919.55" cy="759.50" r="4.6" fill="#000"/>
<circle cx="919.55" cy="748.80" r="4.6" fill="#000"/>
<circle cx="919.55" cy="738.10" r="4.6" fill="#000"/>
<circle cx="930.77" cy="738.10" r="4.6" fill="#000"/>
<circle cx="930.77" cy="727.40" r="4.6" fill="#000"/>
<circle cx="930.77" cy="716.70" r="4.6" fill="#000"/>
<circle cx="941.99" cy="716.70" r="4.6" fill="#000"/>
<circle cx="941.99" cy="706.00" r="4.6" fill="#000"/>
<circle cx="941.99" cy="695.30" r="4.6" fill="#000"/>
<circle cx="953.22" cy="695.30" r="4.6" fill="#000"/>
<circle cx="964.44" cy="695.30" r="4.6" fill="#000"/>
<circle cx="964.44" cy="684.60" r="4.6" fill="#000"/>
<circle cx="975.66" cy="684.60" r="4.6" fill="#000"/>
<circle cx="975.66" cy="673.90" r="4.6" fill="#000"/>
<circle cx="986.88" cy="673.90" r="4.6" fill="#000"/>
<circle cx="998.11" cy="673.90" r="4.6" fill="#000"/>
<circle cx="1009.33" cy="673.90" r="4.6" fill="#000"/>
<circle cx="1020.55" cy="673.90" r="4.6" fill="#000"/>
<circle cx="1020.55" cy="663.20" r="4.6" fill="#000"/>
<circle cx="1031.78" cy="663.20" r="4.6" fill="#000"/>
<circle cx="1043.00" cy="663.20" r="4.6" fill="#000"/>
<circle cx="1043.00" cy="652.50" r="4.6" fill="#000"/>
<circle cx="1054.22" cy="652.50" r="4.6" fill="#000"/>
<circle cx="1054.22" cy="641.80" r="4.6" fill="#000"/>
<circle cx="1054.22" cy="631.10" r="4.6" fill="#000"/>
<circle cx="1065.44" cy="631.10" r="4.6" fill="#000"/>
<circle cx="1076.67" cy="631.10" r="4.6" fill="#000"/>
<circle cx="1087.89" cy="631.10" r="4.6" fill="#000"/>
<circle cx="1099.11" cy="631.10" r="4.6" fill="#000"/>
<circle cx="1132.78" cy="609.70" r="4.6" fill="#000"/>
<circle cx="1144.01" cy="609.70" r="4.6" fill="#000"/>
<circle cx="1155.23" cy="609.70" r="4.6" fill="#000"/>
<circle cx="1166.45" cy="609.70" r="4.6" fill="#000"/>
<circle cx="1177.68" cy="599.00" r="4.6" fill="#000"/>
<circle cx="1188.90" cy="599.00" r="4.6" fill="#000"/>
<circle cx="1200.12" cy="599.00" r="4.6" fill="#000"/>
<circle cx="1233.79" cy="599.00" r="4.6" fill="#000"/>
<circle cx="1245.01" cy="599.00" r="4.6" fill="#000"/>
<circle cx="1256.24" cy="599.00" r="4.6" fill="#000"/>
<circle cx="1267.46" cy="599.00" r="4.6" fill="#000"/>
<circle cx="1278.68" cy="599.00" r="4.6" fill="#000"/>
<circle cx="1289.90" cy="599.00" r="4.6" fill="#000"/>
<circle cx="1301.13" cy="599.00" r="4.6" fill="#000"/>
<circle cx="1312.35" cy="599.00" r="4.6" fill="#000"/>
<circle cx="1323.57" cy="599.00" r="4.6" fill="#000"/>
<circle cx="1334.80" cy="599.00" r="4.6" fill="#000"/>
<circle cx="1346.02" cy="599.00" r="4.6" fill="#000"/>
<circle cx="1357.24" cy="599.00" r="4.6" fill="#000"/>
<circle cx="1368.47" cy="599.00" r="4.6" fill="#000"/>
<circle cx="1379.69" cy="599.00" r="4.6" fill="#000"/>
<circle cx="1390.91" cy="599.00" r="4.6" fill="#000"/>
<circle cx="1402.13" cy="599.00" r="4.6" fill="#000"/>
<circle cx="1413.36" cy="599.00" r="4.6" fill="#000"/>
<circle cx="1424.58" cy="599.00" r="4.6" fill="#000"/>
<circle cx="1447.03" cy="599.00" r="4.6" fill="#000"/>
<circle cx="1458.25" cy="599.00" r="4.6" fill="#000"/>
<circle cx="1469.47" cy="599.00" r="4.6" fill="#000"/>
<circle cx="1480.70" cy="599.00" r="4.6" fill="#000"/>
<text transform="translate(824,780.7) rotate(-90)" x="0" y="0" font-size="18" text-anchor="middle">Sensitivity</text>
<text x="1189.30" y="1017.30" font-size="18" text-anchor="middle" >1 - Specificity</text>
<text x="1188" y="849.7" font-size="26" textLength="284" lengthAdjust="spacingAndGlyphs">% of PTs with PVS and %</text>
<text x="1177" y="884.2" font-size="26" textLength="306" lengthAdjust="spacingAndGlyphs">of PTs with APV combined</text>
<text x="1326.2" y="937.7" font-size="26" textLength="158" lengthAdjust="spacingAndGlyphs">AUC = 0.9087</text>
</g>
</svg>
</body></html>
